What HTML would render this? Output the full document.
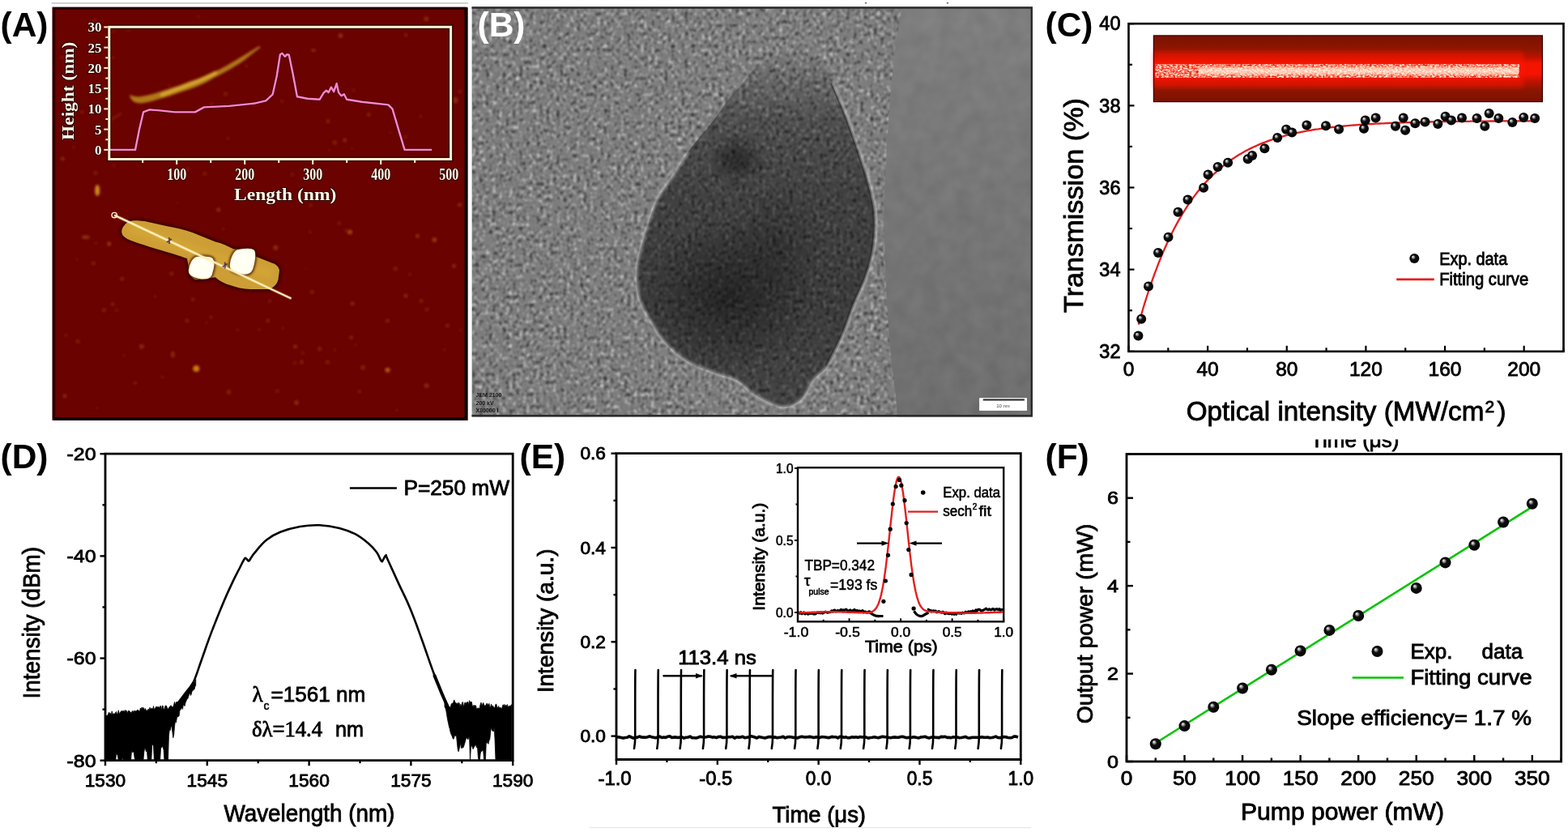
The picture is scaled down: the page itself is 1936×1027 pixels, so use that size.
<!DOCTYPE html>
<html><head><meta charset="utf-8"><title>Figure</title>
<style>html,body{margin:0;padding:0;background:#fff;} svg{display:block;}</style>
</head><body>
<svg width="1936" height="1027" viewBox="0 0 1936 1027">
<defs>
<radialGradient id="sph" cx="0.5" cy="0.5" r="0.5" fx="0.33" fy="0.3">
 <stop offset="0" stop-color="#ffffff"/>
 <stop offset="0.22" stop-color="#9a9a9a"/>
 <stop offset="0.45" stop-color="#111"/>
 <stop offset="1" stop-color="#000"/>
</radialGradient>
<filter id="blur1" x="-20%" y="-20%" width="140%" height="140%"><feGaussianBlur stdDeviation="0.6"/></filter>
<filter id="blur2" x="-50%" y="-50%" width="200%" height="200%"><feGaussianBlur stdDeviation="1.5"/></filter>
<filter id="blur3" x="-50%" y="-50%" width="200%" height="200%"><feGaussianBlur stdDeviation="3"/></filter>
<filter id="blur6" x="-50%" y="-50%" width="200%" height="200%"><feGaussianBlur stdDeviation="6"/></filter>
</defs>
<defs>
<linearGradient id="lasbg" x1="0" y1="0" x2="0" y2="1">
 <stop offset="0" stop-color="#7a1200"/>
 <stop offset="0.2" stop-color="#8c1600"/>
 <stop offset="0.32" stop-color="#b81200"/>
 <stop offset="0.42" stop-color="#f41400"/>
 <stop offset="0.58" stop-color="#f41400"/>
 <stop offset="0.70" stop-color="#bc1200"/>
 <stop offset="0.82" stop-color="#8c1600"/>
 <stop offset="1" stop-color="#7a1200"/>
</linearGradient>
<linearGradient id="lascore" x1="0" y1="0" x2="0" y2="1">
 <stop offset="0" stop-color="#ffd0b0" stop-opacity="0"/>
 <stop offset="0.25" stop-color="#ffe8d0" stop-opacity="0.85"/>
 <stop offset="0.5" stop-color="#fff6e0" stop-opacity="1"/>
 <stop offset="0.75" stop-color="#ffe8d0" stop-opacity="0.85"/>
 <stop offset="1" stop-color="#ffd0b0" stop-opacity="0"/>
</linearGradient>
<filter id="speck" x="0" y="0" width="100%" height="100%">
 <feTurbulence type="fractalNoise" baseFrequency="0.35 0.5" numOctaves="2" seed="3" result="n"/>
 <feColorMatrix in="n" type="matrix" values="0 0 0 0 1  0 0 0 0 1  0 0 0 0 1  0 0 0 -2.2 1.6" result="a"/>
 <feComposite in="SourceGraphic" in2="a" operator="in" result="s"/>
 <feGaussianBlur in="s" stdDeviation="0.6"/>
</filter>
</defs>
<rect x="1424.4" y="43.9" width="480.0" height="81.69999999999999" fill="url(#lasbg)"/>
<rect x="1425.4" y="63.9" width="455.5999999999999" height="44" fill="#ff1800" opacity="0.5" filter="url(#blur3)"/>
<g filter="url(#speck)"><rect x="1426.4" y="79" width="449.5999999999999" height="17" fill="#fff4e0"/></g>
<rect x="1480" y="81" width="395" height="13" fill="url(#lascore)" opacity="0.75"/>
<rect x="1424.4" y="43.9" width="480.0" height="81.69999999999999" fill="none" stroke="#3a0000" stroke-width="1.2"/>
<rect x="1393.5" y="29.2" width="537.0" height="404.6" fill="none" stroke="#000" stroke-width="2.6"/>
<line x1="1393.50" y1="433.80" x2="1400.50" y2="433.80" stroke="#000" stroke-width="2.2" />
<line x1="1393.50" y1="383.23" x2="1398.00" y2="383.23" stroke="#000" stroke-width="2.2" />
<line x1="1393.50" y1="332.65" x2="1400.50" y2="332.65" stroke="#000" stroke-width="2.2" />
<line x1="1393.50" y1="282.07" x2="1398.00" y2="282.07" stroke="#000" stroke-width="2.2" />
<line x1="1393.50" y1="231.50" x2="1400.50" y2="231.50" stroke="#000" stroke-width="2.2" />
<line x1="1393.50" y1="180.93" x2="1398.00" y2="180.93" stroke="#000" stroke-width="2.2" />
<line x1="1393.50" y1="130.35" x2="1400.50" y2="130.35" stroke="#000" stroke-width="2.2" />
<line x1="1393.50" y1="79.78" x2="1398.00" y2="79.78" stroke="#000" stroke-width="2.2" />
<line x1="1393.50" y1="29.20" x2="1400.50" y2="29.20" stroke="#000" stroke-width="2.2" />
<line x1="1393.50" y1="433.80" x2="1393.50" y2="426.80" stroke="#000" stroke-width="2.2" />
<line x1="1442.32" y1="433.80" x2="1442.32" y2="429.30" stroke="#000" stroke-width="2.2" />
<line x1="1491.14" y1="433.80" x2="1491.14" y2="426.80" stroke="#000" stroke-width="2.2" />
<line x1="1539.95" y1="433.80" x2="1539.95" y2="429.30" stroke="#000" stroke-width="2.2" />
<line x1="1588.77" y1="433.80" x2="1588.77" y2="426.80" stroke="#000" stroke-width="2.2" />
<line x1="1637.59" y1="433.80" x2="1637.59" y2="429.30" stroke="#000" stroke-width="2.2" />
<line x1="1686.41" y1="433.80" x2="1686.41" y2="426.80" stroke="#000" stroke-width="2.2" />
<line x1="1735.23" y1="433.80" x2="1735.23" y2="429.30" stroke="#000" stroke-width="2.2" />
<line x1="1784.05" y1="433.80" x2="1784.05" y2="426.80" stroke="#000" stroke-width="2.2" />
<line x1="1832.86" y1="433.80" x2="1832.86" y2="429.30" stroke="#000" stroke-width="2.2" />
<line x1="1881.68" y1="433.80" x2="1881.68" y2="426.80" stroke="#000" stroke-width="2.2" />
<line x1="1930.50" y1="433.80" x2="1930.50" y2="429.30" stroke="#000" stroke-width="2.2" />
<text x="1383.5" y="442.0" font-size="23.5" fill="#000" font-family="'Liberation Sans', Arial, sans-serif" text-anchor="end" stroke="#000" stroke-width="0.85" >32</text>
<text x="1383.5" y="340.9" font-size="23.5" fill="#000" font-family="'Liberation Sans', Arial, sans-serif" text-anchor="end" stroke="#000" stroke-width="0.85" >34</text>
<text x="1383.5" y="239.7" font-size="23.5" fill="#000" font-family="'Liberation Sans', Arial, sans-serif" text-anchor="end" stroke="#000" stroke-width="0.85" >36</text>
<text x="1383.5" y="138.5" font-size="23.5" fill="#000" font-family="'Liberation Sans', Arial, sans-serif" text-anchor="end" stroke="#000" stroke-width="0.85" >38</text>
<text x="1383.5" y="37.4" font-size="23.5" fill="#000" font-family="'Liberation Sans', Arial, sans-serif" text-anchor="end" stroke="#000" stroke-width="0.85" >40</text>
<text x="1393.5" y="464.0" font-size="24.5" fill="#000" font-family="'Liberation Sans', Arial, sans-serif" text-anchor="middle" stroke="#000" stroke-width="0.85" >0</text>
<text x="1491.1" y="464.0" font-size="24.5" fill="#000" font-family="'Liberation Sans', Arial, sans-serif" text-anchor="middle" stroke="#000" stroke-width="0.85" >40</text>
<text x="1588.8" y="464.0" font-size="24.5" fill="#000" font-family="'Liberation Sans', Arial, sans-serif" text-anchor="middle" stroke="#000" stroke-width="0.85" >80</text>
<text x="1686.4" y="464.0" font-size="24.5" fill="#000" font-family="'Liberation Sans', Arial, sans-serif" text-anchor="middle" stroke="#000" stroke-width="0.85" >120</text>
<text x="1784.0" y="464.0" font-size="24.5" fill="#000" font-family="'Liberation Sans', Arial, sans-serif" text-anchor="middle" stroke="#000" stroke-width="0.85" >160</text>
<text x="1881.7" y="464.0" font-size="24.5" fill="#000" font-family="'Liberation Sans', Arial, sans-serif" text-anchor="middle" stroke="#000" stroke-width="0.85" >200</text>
<text x="1464.7" y="519.0" font-size="33" fill="#000" font-family="'Liberation Sans', Arial, sans-serif" stroke="#000" stroke-width="0.85" textLength="367.7" lengthAdjust="spacingAndGlyphs" >Optical intensity (MW/cm</text>
<text x="1833.5" y="508.5" font-size="21" fill="#000" font-family="'Liberation Sans', Arial, sans-serif" stroke="#000" stroke-width="0.85" >2</text>
<text x="1848.5" y="519.0" font-size="33" fill="#000" font-family="'Liberation Sans', Arial, sans-serif" stroke="#000" stroke-width="0.85" >)</text>
<text x="1336.5" y="386.0" font-size="32.5" fill="#000" font-family="'Liberation Sans', Arial, sans-serif" stroke="#000" stroke-width="0.85" textLength="265.0" lengthAdjust="spacingAndGlyphs" transform="rotate(-90 1336.5 386.0)" >Transmission (%)</text>
<path d="M1405.7,400.6 L1408.1,391.9 L1410.6,383.5 L1413.0,375.3 L1415.5,367.5 L1417.9,360.0 L1420.3,352.7 L1422.8,345.6 L1425.2,338.8 L1427.7,332.3 L1430.1,325.9 L1432.6,319.8 L1435.0,313.9 L1437.4,308.2 L1439.9,302.7 L1442.3,297.4 L1444.8,292.2 L1447.2,287.3 L1449.6,282.5 L1452.1,277.9 L1454.5,273.4 L1457.0,269.1 L1459.4,265.0 L1461.8,261.0 L1464.3,257.1 L1466.7,253.3 L1469.2,249.7 L1471.6,246.3 L1474.0,242.9 L1476.5,239.6 L1478.9,236.5 L1481.4,233.5 L1483.8,230.6 L1486.3,227.7 L1488.7,225.0 L1491.1,222.4 L1493.6,219.9 L1496.0,217.4 L1498.5,215.0 L1500.9,212.8 L1503.3,210.6 L1505.8,208.4 L1508.2,206.4 L1510.7,204.4 L1513.1,202.5 L1515.5,200.6 L1518.0,198.8 L1520.4,197.1 L1522.9,195.5 L1525.3,193.9 L1527.8,192.3 L1530.2,190.8 L1532.6,189.4 L1535.1,188.0 L1537.5,186.6 L1540.0,185.3 L1542.4,184.1 L1544.8,182.9 L1547.3,181.7 L1549.7,180.6 L1552.2,179.5 L1554.6,178.4 L1557.0,177.4 L1559.5,176.4 L1561.9,175.5 L1564.4,174.6 L1566.8,173.7 L1569.2,172.8 L1571.7,172.0 L1574.1,171.2 L1576.6,170.4 L1579.0,169.7 L1581.5,169.0 L1583.9,168.3 L1586.3,167.6 L1588.8,167.0 L1591.2,166.4 L1593.7,165.8 L1596.1,165.2 L1598.5,164.6 L1601.0,164.1 L1603.4,163.6 L1605.9,163.1 L1608.3,162.6 L1610.7,162.1 L1613.2,161.7 L1615.6,161.2 L1618.1,160.8 L1620.5,160.4 L1622.9,160.0 L1625.4,159.6 L1627.8,159.3 L1630.3,158.9 L1632.7,158.6 L1635.2,158.2 L1637.6,157.9 L1640.0,157.6 L1642.5,157.3 L1644.9,157.0 L1647.4,156.8 L1649.8,156.5 L1652.2,156.2 L1654.7,156.0 L1657.1,155.8 L1659.6,155.5 L1662.0,155.3 L1664.4,155.1 L1666.9,154.9 L1669.3,154.7 L1671.8,154.5 L1674.2,154.3 L1676.6,154.1 L1679.1,153.9 L1681.5,153.8 L1684.0,153.6 L1686.4,153.4 L1688.8,153.3 L1691.3,153.1 L1693.7,153.0 L1696.2,152.9 L1698.6,152.7 L1701.1,152.6 L1703.5,152.5 L1705.9,152.4 L1708.4,152.3 L1710.8,152.1 L1713.3,152.0 L1715.7,151.9 L1718.1,151.8 L1720.6,151.7 L1723.0,151.6 L1725.5,151.6 L1727.9,151.5 L1730.3,151.4 L1732.8,151.3 L1735.2,151.2 L1737.7,151.2 L1740.1,151.1 L1742.5,151.0 L1745.0,150.9 L1747.4,150.9 L1749.9,150.8 L1752.3,150.8 L1754.8,150.7 L1757.2,150.6 L1759.6,150.6 L1762.1,150.5 L1764.5,150.5 L1767.0,150.4 L1769.4,150.4 L1771.8,150.3 L1774.3,150.3 L1776.7,150.3 L1779.2,150.2 L1781.6,150.2 L1784.0,150.1 L1786.5,150.1 L1788.9,150.1 L1791.4,150.0 L1793.8,150.0 L1796.2,150.0 L1798.7,149.9 L1801.1,149.9 L1803.6,149.9 L1806.0,149.8 L1808.5,149.8 L1810.9,149.8 L1813.3,149.8 L1815.8,149.7 L1818.2,149.7 L1820.7,149.7 L1823.1,149.7 L1825.5,149.7 L1828.0,149.6 L1830.4,149.6 L1832.9,149.6 L1835.3,149.6 L1837.7,149.6 L1840.2,149.5 L1842.6,149.5 L1845.1,149.5 L1847.5,149.5 L1850.0,149.5 L1852.4,149.5 L1854.8,149.4 L1857.3,149.4 L1859.7,149.4 L1862.2,149.4 L1864.6,149.4 L1867.0,149.4 L1869.5,149.4 L1871.9,149.4 L1874.4,149.4 L1876.8,149.3 L1879.2,149.3 L1881.7,149.3 L1884.1,149.3 L1886.6,149.3 L1889.0,149.3 L1891.4,149.3 L1893.9,149.3 L1896.3,149.3 L1898.8,149.3" fill="none" stroke="#e41e1e" stroke-width="2.3"/>
<circle cx="1405.4" cy="414.4" r="6" fill="url(#sph)"/>
<circle cx="1409.2" cy="393.7" r="6" fill="url(#sph)"/>
<circle cx="1418.0" cy="353.4" r="6" fill="url(#sph)"/>
<circle cx="1430.0" cy="311.9" r="6" fill="url(#sph)"/>
<circle cx="1442.5" cy="292.8" r="6" fill="url(#sph)"/>
<circle cx="1454.5" cy="261.8" r="6" fill="url(#sph)"/>
<circle cx="1466.5" cy="246.5" r="6" fill="url(#sph)"/>
<circle cx="1486.1" cy="231.8" r="6" fill="url(#sph)"/>
<circle cx="1491.6" cy="215.4" r="6" fill="url(#sph)"/>
<circle cx="1503.6" cy="206.1" r="6" fill="url(#sph)"/>
<circle cx="1516.1" cy="200.7" r="6" fill="url(#sph)"/>
<circle cx="1540.7" cy="196.3" r="6" fill="url(#sph)"/>
<circle cx="1546.1" cy="191.9" r="6" fill="url(#sph)"/>
<circle cx="1561.4" cy="183.2" r="6" fill="url(#sph)"/>
<circle cx="1577.2" cy="170.1" r="6" fill="url(#sph)"/>
<circle cx="1588.1" cy="159.8" r="6" fill="url(#sph)"/>
<circle cx="1595.2" cy="163.6" r="6" fill="url(#sph)"/>
<circle cx="1613.4" cy="154.6" r="6" fill="url(#sph)"/>
<circle cx="1637.0" cy="155.3" r="6" fill="url(#sph)"/>
<circle cx="1653.1" cy="159.5" r="6" fill="url(#sph)"/>
<circle cx="1684.0" cy="158.8" r="6" fill="url(#sph)"/>
<circle cx="1685.7" cy="148.5" r="6" fill="url(#sph)"/>
<circle cx="1698.6" cy="145.6" r="6" fill="url(#sph)"/>
<circle cx="1723.0" cy="155.8" r="6" fill="url(#sph)"/>
<circle cx="1732.7" cy="145.6" r="6" fill="url(#sph)"/>
<circle cx="1735.1" cy="160.7" r="6" fill="url(#sph)"/>
<circle cx="1747.3" cy="152.2" r="6" fill="url(#sph)"/>
<circle cx="1759.5" cy="150.5" r="6" fill="url(#sph)"/>
<circle cx="1775.3" cy="152.9" r="6" fill="url(#sph)"/>
<circle cx="1784.6" cy="143.7" r="6" fill="url(#sph)"/>
<circle cx="1791.9" cy="148.5" r="6" fill="url(#sph)"/>
<circle cx="1805.0" cy="145.6" r="6" fill="url(#sph)"/>
<circle cx="1823.5" cy="146.1" r="6" fill="url(#sph)"/>
<circle cx="1833.3" cy="155.8" r="6" fill="url(#sph)"/>
<circle cx="1838.6" cy="140.0" r="6" fill="url(#sph)"/>
<circle cx="1850.3" cy="146.1" r="6" fill="url(#sph)"/>
<circle cx="1867.3" cy="151.0" r="6" fill="url(#sph)"/>
<circle cx="1881.2" cy="144.9" r="6" fill="url(#sph)"/>
<circle cx="1895.1" cy="146.1" r="6" fill="url(#sph)"/>
<circle cx="1746.3" cy="319.1" r="6" fill="url(#sph)"/>
<text x="1777.2" y="326.5" font-size="22" fill="#000" font-family="'Liberation Sans', Arial, sans-serif" stroke="#000" stroke-width="0.85" textLength="84.0" lengthAdjust="spacingAndGlyphs" >Exp. data</text>
<line x1="1724.20" y1="344.90" x2="1770.80" y2="344.90" stroke="#e41e1e" stroke-width="2.6" />
<text x="1777.2" y="351.5" font-size="22" fill="#000" font-family="'Liberation Sans', Arial, sans-serif" stroke="#000" stroke-width="0.85" textLength="110.0" lengthAdjust="spacingAndGlyphs" >Fitting curve</text>
<text x="1290.5" y="44.5" font-size="42.5" fill="#000" font-family="'Liberation Sans', Arial, sans-serif" font-weight="bold" >(C)</text>
<path d="M216.0,872.0 C217.2,870.7 219.0,869.1 222.0,865.5 C225.0,861.9 227.6,858.7 231.0,854.0 C234.4,849.3 235.4,849.8 238.9,842.0 C242.4,834.2 244.3,827.2 248.7,815.0 C253.1,802.8 255.5,795.0 260.9,780.9 C266.3,766.8 270.2,757.1 275.5,744.4 C280.8,731.7 283.5,726.3 287.6,717.6 C291.7,708.9 293.2,706.5 296.0,701.0 C298.8,695.5 300.2,692.3 301.8,690.0 C303.4,687.7 303.1,689.1 304.2,689.6 C305.3,690.1 305.8,692.8 307.1,692.4 C308.4,692.0 309.0,689.8 310.5,687.8 C312.0,685.8 310.7,686.6 314.4,682.3 C318.1,678.0 322.7,671.6 329.0,666.5 C335.3,661.4 337.7,660.1 346.0,656.8 C354.3,653.5 360.7,651.7 370.4,650.0 C380.1,648.3 385.0,647.9 394.7,648.3 C404.4,648.7 410.3,649.7 419.1,651.9 C427.9,654.1 431.3,655.3 438.6,659.2 C445.9,663.1 450.3,666.9 455.6,671.4 C460.9,675.9 462.0,677.3 465.0,681.5 C468.0,685.7 469.2,690.6 470.8,692.5 C472.4,694.4 471.9,692.4 473.0,691.0 C474.1,689.6 475.2,685.6 476.3,685.5 C477.4,685.4 475.4,683.6 478.6,690.5 C481.8,697.4 486.5,707.9 492.1,720.1 C497.7,732.3 500.9,737.6 506.7,751.7 C512.5,765.8 515.5,774.6 521.3,790.7 C527.1,806.8 531.0,818.9 535.9,832.0 C540.8,845.1 542.3,848.1 545.7,856.4 C549.1,864.7 551.5,870.0 553.0,873.4" fill="none" stroke="#000" stroke-width="2.6" stroke-linejoin="round"/>
<path d="M219,870 L225,862 L231,854 L235,849 L239,843" fill="none" stroke="#000" stroke-width="4" stroke-linecap="round" stroke-linejoin="round"/>
<path d="M536.5,834 L541,845 L545.7,856.4 L549,864 L553,873" fill="none" stroke="#000" stroke-width="4" stroke-linecap="round" stroke-linejoin="round"/>
<path d="M131.0,882.8 L131.9,884.6 L132.8,882.8 L133.7,881.4 L134.6,879.1 L135.5,880.9 L136.4,880.2 L137.3,883.1 L138.2,877.8 L139.1,882.7 L140.0,880.6 L140.9,882.0 L141.8,880.5 L142.7,879.7 L143.6,878.4 L144.5,881.9 L145.4,881.0 L146.3,876.7 L147.2,881.8 L148.1,879.7 L149.0,878.5 L149.9,877.6 L150.8,877.5 L151.7,878.2 L152.6,877.0 L153.5,879.6 L154.4,876.3 L155.3,878.8 L156.2,876.8 L157.1,880.5 L158.0,878.3 L158.9,877.0 L159.8,877.7 L160.7,878.7 L161.6,879.7 L162.5,879.3 L163.4,877.4 L164.3,879.7 L165.2,877.2 L166.1,878.8 L167.0,877.0 L167.9,879.1 L168.8,877.1 L169.7,876.2 L170.6,876.7 L171.5,877.1 L172.4,879.3 L173.3,874.0 L174.2,876.0 L175.1,873.0 L176.0,876.1 L176.9,873.2 L177.8,874.4 L178.7,877.2 L179.6,874.6 L180.5,877.4 L181.4,876.8 L182.3,877.2 L183.2,875.1 L184.1,877.5 L185.0,873.3 L185.9,874.8 L186.8,875.0 L187.7,874.1 L188.6,876.1 L189.5,871.6 L190.4,876.5 L191.3,874.2 L192.2,873.6 L193.1,871.9 L194.0,873.6 L194.9,872.3 L195.8,872.7 L196.7,873.7 L197.6,871.6 L198.5,871.6 L199.4,876.9 L200.3,871.1 L201.2,871.3 L202.1,875.6 L203.0,875.5 L203.9,871.5 L204.8,870.9 L205.7,871.6 L206.6,874.4 L207.5,874.9 L208.4,874.0 L209.3,872.3 L210.2,871.9 L211.1,870.7 L212.0,872.2 L212.9,872.9 L213.8,872.6 L214.7,869.6 L215.6,866.4 L216.5,870.7 L217.4,867.0 L218.3,866.1 L219.2,867.8 L220.1,867.3 L221.0,867.7 L221.9,869.0 L222.8,864.1 L223.7,866.1 L224.6,865.6 L225.5,863.3 L226.4,861.4 L227.3,861.9 L228.2,856.7 L229.1,859.9 L230.0,856.7 L230.9,857.7 L231.8,855.1 L232.7,851.2 L233.6,849.6 L234.5,848.0 L235.4,850.7 L236.3,849.1 L237.2,844.3 L238.1,847.5 L239.0,846.8 L239.9,841.6 L240.8,844.7 L241.7,838.7 L241.7,845.9 L240.8,847.7 L239.9,851.1 L239.0,851.1 L238.1,852.7 L237.2,852.7 L236.3,856.8 L235.4,858.5 L234.5,855.4 L233.6,856.7 L232.7,860.1 L231.8,862.5 L230.9,862.6 L230.0,865.3 L229.1,866.9 L228.2,871.4 L227.3,871.0 L226.4,869.1 L225.5,875.4 L224.6,872.8 L223.7,875.5 L222.8,875.6 L221.9,877.6 L221.0,884.0 L220.1,884.6 L219.2,884.5 L218.3,886.5 L217.4,891.9 L216.5,889.7 L215.6,895.9 L214.7,906.5 L213.8,910.7 L212.9,903.5 L212.0,896.0 L211.1,897.3 L210.2,901.6 L209.3,900.7 L208.4,908.3 L207.5,938.7 L206.6,938.7 L205.7,938.7 L204.8,938.7 L203.9,938.7 L203.0,938.7 L202.1,925.8 L201.2,922.4 L200.3,921.5 L199.4,923.1 L198.5,923.8 L197.6,938.7 L196.7,938.7 L195.8,938.7 L194.9,938.7 L194.0,938.7 L193.1,938.7 L192.2,938.7 L191.3,938.7 L190.4,938.7 L189.5,920.9 L188.6,919.2 L187.7,919.2 L186.8,938.7 L185.9,938.7 L185.0,938.7 L184.1,938.7 L183.2,938.7 L182.3,938.7 L181.4,924.1 L180.5,927.9 L179.6,924.4 L178.7,923.6 L177.8,928.3 L176.9,938.7 L176.0,938.7 L175.1,938.7 L174.2,938.7 L173.3,938.7 L172.4,938.7 L171.5,938.7 L170.6,938.7 L169.7,938.7 L168.8,938.7 L167.9,938.7 L167.0,938.7 L166.1,935.3 L165.2,928.1 L164.3,928.3 L163.4,928.8 L162.5,925.5 L161.6,938.7 L160.7,938.7 L159.8,938.7 L158.9,938.7 L158.0,938.7 L157.1,938.7 L156.2,938.7 L155.3,938.7 L154.4,938.7 L153.5,938.7 L152.6,938.7 L151.7,936.5 L150.8,936.1 L149.9,938.7 L149.0,938.7 L148.1,938.7 L147.2,938.7 L146.3,938.7 L145.4,933.0 L144.5,931.0 L143.6,930.1 L142.7,938.7 L141.8,938.7 L140.9,938.7 L140.0,938.7 L139.1,938.7 L138.2,938.7 L137.3,938.7 L136.4,938.7 L135.5,938.7 L134.6,938.7 L133.7,938.7 L132.8,938.7 L131.9,938.7 L131.0,938.7Z" fill="#000" stroke="#000" stroke-width="0.8" stroke-linejoin="round"/>
<path d="M549.0,863.8 L549.9,866.9 L550.8,869.3 L551.7,869.6 L552.6,868.7 L553.5,871.2 L554.4,871.8 L555.3,872.9 L556.2,873.2 L557.1,869.5 L558.0,868.1 L558.9,868.4 L559.8,866.8 L560.7,863.9 L561.6,866.1 L562.5,867.6 L563.4,868.7 L564.3,867.6 L565.2,870.0 L566.1,867.3 L567.0,867.7 L567.9,872.8 L568.8,869.2 L569.7,872.2 L570.6,867.1 L571.5,866.6 L572.4,872.9 L573.3,869.3 L574.2,866.8 L575.1,869.4 L576.0,867.1 L576.9,866.8 L577.8,866.5 L578.7,870.4 L579.6,864.6 L580.5,867.4 L581.4,866.1 L582.3,866.5 L583.2,871.1 L584.1,872.6 L585.0,870.3 L585.9,871.7 L586.8,870.4 L587.7,871.3 L588.6,876.3 L589.5,874.3 L590.4,873.8 L591.3,875.2 L592.2,873.6 L593.1,869.6 L594.0,867.1 L594.9,871.2 L595.8,869.2 L596.7,867.4 L597.6,869.8 L598.5,871.6 L599.4,870.7 L600.3,869.6 L601.2,868.0 L602.1,869.2 L603.0,871.1 L603.9,868.3 L604.8,872.9 L605.7,872.4 L606.6,869.0 L607.5,872.5 L608.4,870.9 L609.3,872.5 L610.2,873.7 L611.1,872.7 L612.0,869.3 L612.9,869.2 L613.8,874.0 L614.7,873.3 L615.6,871.6 L616.5,874.6 L617.4,872.9 L618.3,873.8 L619.2,874.9 L620.1,873.0 L621.0,869.8 L621.9,870.9 L622.8,869.4 L623.7,872.4 L624.6,870.1 L625.5,871.9 L626.4,869.5 L627.3,872.9 L628.2,871.9 L629.1,871.1 L630.0,872.6 L630.9,870.5 L631.8,869.6 L631.8,938.7 L630.9,938.7 L630.0,938.7 L629.1,938.7 L628.2,938.7 L627.3,938.7 L626.4,938.7 L625.5,938.7 L624.6,938.7 L623.7,938.7 L622.8,938.7 L621.9,938.7 L621.0,938.7 L620.1,938.7 L619.2,938.7 L618.3,938.7 L617.4,938.7 L616.5,938.7 L615.6,938.7 L614.7,938.7 L613.8,938.7 L612.9,938.7 L612.0,938.7 L611.1,914.3 L610.2,897.1 L609.3,902.9 L608.4,902.5 L607.5,901.1 L606.6,897.5 L605.7,903.7 L604.8,912.4 L603.9,914.2 L603.0,918.4 L602.1,914.6 L601.2,917.4 L600.3,916.3 L599.4,938.7 L598.5,938.7 L597.6,938.7 L596.7,926.0 L595.8,926.1 L594.9,927.6 L594.0,927.0 L593.1,930.4 L592.2,938.7 L591.3,938.7 L590.4,935.2 L589.5,921.5 L588.6,923.1 L587.7,919.9 L586.8,919.0 L585.9,921.8 L585.0,922.3 L584.1,924.7 L583.2,922.4 L582.3,919.7 L581.4,922.3 L580.5,938.7 L579.6,911.0 L578.7,910.1 L577.8,913.0 L576.9,911.2 L576.0,910.5 L575.1,912.9 L574.2,916.1 L573.3,919.0 L572.4,921.9 L571.5,923.2 L570.6,922.8 L569.7,923.8 L568.8,916.5 L567.9,921.5 L567.0,924.6 L566.1,927.8 L565.2,925.0 L564.3,916.1 L563.4,907.1 L562.5,908.6 L561.6,906.9 L560.7,910.8 L559.8,912.4 L558.9,911.1 L558.0,908.3 L557.1,906.5 L556.2,904.2 L555.3,899.6 L554.4,896.7 L553.5,892.4 L552.6,888.3 L551.7,882.8 L550.8,877.2 L549.9,874.0 L549.0,872.4Z" fill="#000" stroke="#000" stroke-width="0.8" stroke-linejoin="round"/>
<path d="M130.0,560.2 L633.2,560.2 L633.2,938.7 L130.0,938.7Z" fill="none" stroke="#000" stroke-width="2.8"/>
<line x1="130.00" y1="938.70" x2="123.50" y2="938.70" stroke="#000" stroke-width="2.4" />
<line x1="130.00" y1="875.62" x2="126.50" y2="875.62" stroke="#000" stroke-width="2.4" />
<line x1="130.00" y1="812.53" x2="123.50" y2="812.53" stroke="#000" stroke-width="2.4" />
<line x1="130.00" y1="749.45" x2="126.50" y2="749.45" stroke="#000" stroke-width="2.4" />
<line x1="130.00" y1="686.37" x2="123.50" y2="686.37" stroke="#000" stroke-width="2.4" />
<line x1="130.00" y1="623.28" x2="126.50" y2="623.28" stroke="#000" stroke-width="2.4" />
<line x1="130.00" y1="560.20" x2="123.50" y2="560.20" stroke="#000" stroke-width="2.4" />
<line x1="130.00" y1="938.70" x2="130.00" y2="945.20" stroke="#000" stroke-width="2.4" />
<line x1="192.90" y1="938.70" x2="192.90" y2="942.20" stroke="#000" stroke-width="2.4" />
<line x1="255.80" y1="938.70" x2="255.80" y2="945.20" stroke="#000" stroke-width="2.4" />
<line x1="318.70" y1="938.70" x2="318.70" y2="942.20" stroke="#000" stroke-width="2.4" />
<line x1="381.60" y1="938.70" x2="381.60" y2="945.20" stroke="#000" stroke-width="2.4" />
<line x1="444.50" y1="938.70" x2="444.50" y2="942.20" stroke="#000" stroke-width="2.4" />
<line x1="507.40" y1="938.70" x2="507.40" y2="945.20" stroke="#000" stroke-width="2.4" />
<line x1="570.30" y1="938.70" x2="570.30" y2="942.20" stroke="#000" stroke-width="2.4" />
<line x1="633.20" y1="938.70" x2="633.20" y2="945.20" stroke="#000" stroke-width="2.4" />
<text x="118.5" y="946.5" font-size="22.5" fill="#000" font-family="'Liberation Sans', Arial, sans-serif" text-anchor="end" stroke="#000" stroke-width="0.85" textLength="36.0" lengthAdjust="spacingAndGlyphs" >-80</text>
<text x="118.5" y="820.3" font-size="22.5" fill="#000" font-family="'Liberation Sans', Arial, sans-serif" text-anchor="end" stroke="#000" stroke-width="0.85" textLength="36.0" lengthAdjust="spacingAndGlyphs" >-60</text>
<text x="118.5" y="694.2" font-size="22.5" fill="#000" font-family="'Liberation Sans', Arial, sans-serif" text-anchor="end" stroke="#000" stroke-width="0.85" textLength="36.0" lengthAdjust="spacingAndGlyphs" >-40</text>
<text x="118.5" y="568.0" font-size="22.5" fill="#000" font-family="'Liberation Sans', Arial, sans-serif" text-anchor="end" stroke="#000" stroke-width="0.85" textLength="36.0" lengthAdjust="spacingAndGlyphs" >-20</text>
<text x="130.0" y="971.2" font-size="22.5" fill="#000" font-family="'Liberation Sans', Arial, sans-serif" text-anchor="middle" stroke="#000" stroke-width="0.85" textLength="50.5" lengthAdjust="spacingAndGlyphs" >1530</text>
<text x="255.8" y="971.2" font-size="22.5" fill="#000" font-family="'Liberation Sans', Arial, sans-serif" text-anchor="middle" stroke="#000" stroke-width="0.85" textLength="50.5" lengthAdjust="spacingAndGlyphs" >1545</text>
<text x="381.6" y="971.2" font-size="22.5" fill="#000" font-family="'Liberation Sans', Arial, sans-serif" text-anchor="middle" stroke="#000" stroke-width="0.85" textLength="50.5" lengthAdjust="spacingAndGlyphs" >1560</text>
<text x="507.4" y="971.2" font-size="22.5" fill="#000" font-family="'Liberation Sans', Arial, sans-serif" text-anchor="middle" stroke="#000" stroke-width="0.85" textLength="50.5" lengthAdjust="spacingAndGlyphs" >1575</text>
<text x="633.2" y="971.2" font-size="22.5" fill="#000" font-family="'Liberation Sans', Arial, sans-serif" text-anchor="middle" stroke="#000" stroke-width="0.85" textLength="50.5" lengthAdjust="spacingAndGlyphs" >1590</text>
<text x="276.4" y="1014.2" font-size="29.5" fill="#000" font-family="'Liberation Sans', Arial, sans-serif" stroke="#000" stroke-width="0.85" textLength="211.0" lengthAdjust="spacingAndGlyphs" >Wavelength (nm)</text>
<text x="49.5" y="862.4" font-size="29.5" fill="#000" font-family="'Liberation Sans', Arial, sans-serif" stroke="#000" stroke-width="0.85" textLength="187.4" lengthAdjust="spacingAndGlyphs" transform="rotate(-90 49.5 862.4)" >Intensity (dBm)</text>
<line x1="431.90" y1="602.40" x2="489.90" y2="602.40" stroke="#000" stroke-width="2.5" />
<text x="498.4" y="610.7" font-size="26" fill="#000" font-family="'Liberation Sans', Arial, sans-serif" stroke="#000" stroke-width="0.85" textLength="130.6" lengthAdjust="spacingAndGlyphs" >P=250 mW</text>
<text x="311.5" y="865.8" font-size="27" fill="#000" font-family="'Liberation Serif', 'Times New Roman', serif" stroke="#000" stroke-width="0.85" >&#955;</text>
<text x="325.5" y="876.0" font-size="14" fill="#000" font-family="'Liberation Sans', Arial, sans-serif" stroke="#000" stroke-width="0.55" >c</text>
<text x="334.6" y="865.8" font-size="26.5" fill="#000" font-family="'Liberation Sans', Arial, sans-serif" stroke="#000" stroke-width="0.85" textLength="116.7" lengthAdjust="spacingAndGlyphs" >=1561 nm</text>
<text x="311.0" y="909.0" font-size="27" fill="#000" font-family="'Liberation Serif', 'Times New Roman', serif" stroke="#000" stroke-width="0.85" textLength="87.0" lengthAdjust="spacingAndGlyphs" >&#948;&#955;=14.4</text>
<text x="414.0" y="909.0" font-size="26.5" fill="#000" font-family="'Liberation Sans', Arial, sans-serif" stroke="#000" stroke-width="0.85" textLength="35.0" lengthAdjust="spacingAndGlyphs" >nm</text>
<text x="0.5" y="577.5" font-size="42.5" fill="#000" font-family="'Liberation Sans', Arial, sans-serif" font-weight="bold" >(D)</text>
<path d="M762.0,909.8 L764.5,909.9 L767.0,910.5 L769.5,911.1 L772.0,910.5 L774.5,910.2 L777.0,908.9 L779.5,910.0 L782.0,911.1 L784.5,910.4 L787.0,910.2 L789.5,909.0 L792.0,910.0 L794.5,910.1 L797.0,910.3 L799.5,909.8 L802.0,908.9 L804.5,909.7 L807.0,910.2 L809.5,910.8 L812.0,910.0 L814.5,909.1 L817.0,910.5 L819.5,910.0 L822.0,910.4 L824.5,909.2 L827.0,908.8 L829.5,910.5 L832.0,910.1 L834.5,909.9 L837.0,910.4 L839.5,910.1 L842.0,909.7 L844.5,911.1 L847.0,910.3 L849.5,910.0 L852.0,909.1 L854.5,910.6 L857.0,910.7 L859.5,911.0 L862.0,910.3 L864.5,909.2 L867.0,909.8 L869.5,910.0 L872.0,909.8 L874.5,909.1 L877.0,909.2 L879.5,910.1 L882.0,909.8 L884.5,910.6 L887.0,909.5 L889.5,909.2 L892.0,910.4 L894.5,910.4 L897.0,910.1 L899.5,909.7 L902.0,909.8 L904.5,909.3 L907.0,911.1 L909.5,909.7 L912.0,910.1 L914.5,910.0 L917.0,909.2 L919.5,910.8 L922.0,910.2 L924.5,909.9 L927.0,908.8 L929.5,909.3 L932.0,910.0 L934.5,911.0 L937.0,909.4 L939.5,909.9 L942.0,910.5 L944.5,911.0 L947.0,910.2 L949.5,909.6 L952.0,909.5 L954.5,910.3 L957.0,909.9 L959.5,910.7 L962.0,910.3 L964.5,910.0 L967.0,909.2 L969.5,911.0 L972.0,909.8 L974.5,909.6 L977.0,909.7 L979.5,910.4 L982.0,910.2 L984.5,911.0 L987.0,909.9 L989.5,909.2 L992.0,909.6 L994.5,909.9 L997.0,909.8 L999.5,909.4 L1002.0,909.8 L1004.5,910.5 L1007.0,909.9 L1009.5,909.8 L1012.0,910.6 L1014.5,909.6 L1017.0,909.7 L1019.5,910.0 L1022.0,910.6 L1024.5,910.4 L1027.0,909.4 L1029.5,909.7 L1032.0,909.7 L1034.5,911.0 L1037.0,909.3 L1039.5,909.5 L1042.0,910.2 L1044.5,909.8 L1047.0,910.8 L1049.5,910.6 L1052.0,909.7 L1054.5,910.1 L1057.0,909.8 L1059.5,910.4 L1062.0,909.5 L1064.5,910.0 L1067.0,909.4 L1069.5,910.2 L1072.0,911.2 L1074.5,910.5 L1077.0,910.2 L1079.5,909.7 L1082.0,910.3 L1084.5,910.8 L1087.0,910.0 L1089.5,909.2 L1092.0,909.6 L1094.5,909.8 L1097.0,910.3 L1099.5,910.7 L1102.0,910.2 L1104.5,909.9 L1107.0,910.3 L1109.5,910.3 L1112.0,909.5 L1114.5,909.2 L1117.0,910.1 L1119.5,910.8 L1122.0,910.3 L1124.5,910.4 L1127.0,909.9 L1129.5,909.9 L1132.0,910.5 L1134.5,910.9 L1137.0,909.9 L1139.5,909.8 L1142.0,909.3 L1144.5,910.2 L1147.0,910.9 L1149.5,910.3 L1152.0,909.3 L1154.5,910.3 L1157.0,910.4 L1159.5,910.6 L1162.0,909.4 L1164.5,909.6 L1167.0,909.3 L1169.5,910.4 L1172.0,910.4 L1174.5,910.6 L1177.0,909.8 L1179.5,910.0 L1182.0,910.0 L1184.5,910.7 L1187.0,910.5 L1189.5,910.0 L1192.0,909.4 L1194.5,910.7 L1197.0,911.0 L1199.5,910.4 L1202.0,910.3 L1204.5,910.2 L1207.0,910.2 L1209.5,910.5 L1212.0,909.7 L1214.5,910.1 L1217.0,910.2 L1219.5,910.1 L1222.0,910.8 L1224.5,910.5 L1227.0,909.9 L1229.5,909.1 L1232.0,910.5 L1234.5,910.6 L1237.0,910.4 L1239.5,909.5 L1242.0,909.7 L1244.5,910.5 L1247.0,910.7 L1249.5,910.5 L1252.0,909.0 L1254.5,909.1 L1257.0,910.0" fill="none" stroke="#000" stroke-width="3.6" stroke-linejoin="round"/>
<path d="M784.5,827 C784.2,830 784.2,850 784.2,880 L784.2,910 C784.2,915 783.7,920 783.0,924" fill="none" stroke="#000" stroke-width="2.6" stroke-linecap="round"/>
<path d="M812.8,827 C812.5,830 812.5,850 812.5,880 L812.5,910 C812.5,915 812.0,920 811.3,924" fill="none" stroke="#000" stroke-width="2.6" stroke-linecap="round"/>
<path d="M841.1,827 C840.8,830 840.8,850 840.8,880 L840.8,910 C840.8,915 840.3,920 839.6,924" fill="none" stroke="#000" stroke-width="2.6" stroke-linecap="round"/>
<path d="M869.4,827 C869.1,830 869.1,850 869.1,880 L869.1,910 C869.1,915 868.6,920 867.9,924" fill="none" stroke="#000" stroke-width="2.6" stroke-linecap="round"/>
<path d="M897.7,827 C897.4,830 897.4,850 897.4,880 L897.4,910 C897.4,915 896.9,920 896.2,924" fill="none" stroke="#000" stroke-width="2.6" stroke-linecap="round"/>
<path d="M926.0,827 C925.7,830 925.7,850 925.7,880 L925.7,910 C925.7,915 925.2,920 924.5,924" fill="none" stroke="#000" stroke-width="2.6" stroke-linecap="round"/>
<path d="M954.3,827 C954.0,830 954.0,850 954.0,880 L954.0,910 C954.0,915 953.5,920 952.8,924" fill="none" stroke="#000" stroke-width="2.6" stroke-linecap="round"/>
<path d="M982.6,827 C982.3,830 982.3,850 982.3,880 L982.3,910 C982.3,915 981.8,920 981.1,924" fill="none" stroke="#000" stroke-width="2.6" stroke-linecap="round"/>
<path d="M1010.9,827 C1010.6,830 1010.6,850 1010.6,880 L1010.6,910 C1010.6,915 1010.1,920 1009.4,924" fill="none" stroke="#000" stroke-width="2.6" stroke-linecap="round"/>
<path d="M1039.3,827 C1039.0,830 1039.0,850 1039.0,880 L1039.0,910 C1039.0,915 1038.5,920 1037.8,924" fill="none" stroke="#000" stroke-width="2.6" stroke-linecap="round"/>
<path d="M1067.6,827 C1067.3,830 1067.3,850 1067.3,880 L1067.3,910 C1067.3,915 1066.8,920 1066.1,924" fill="none" stroke="#000" stroke-width="2.6" stroke-linecap="round"/>
<path d="M1095.9,827 C1095.6,830 1095.6,850 1095.6,880 L1095.6,910 C1095.6,915 1095.1,920 1094.4,924" fill="none" stroke="#000" stroke-width="2.6" stroke-linecap="round"/>
<path d="M1124.2,827 C1123.9,830 1123.9,850 1123.9,880 L1123.9,910 C1123.9,915 1123.4,920 1122.7,924" fill="none" stroke="#000" stroke-width="2.6" stroke-linecap="round"/>
<path d="M1152.5,827 C1152.2,830 1152.2,850 1152.2,880 L1152.2,910 C1152.2,915 1151.7,920 1151.0,924" fill="none" stroke="#000" stroke-width="2.6" stroke-linecap="round"/>
<path d="M1180.8,827 C1180.5,830 1180.5,850 1180.5,880 L1180.5,910 C1180.5,915 1180.0,920 1179.3,924" fill="none" stroke="#000" stroke-width="2.6" stroke-linecap="round"/>
<path d="M1209.1,827 C1208.8,830 1208.8,850 1208.8,880 L1208.8,910 C1208.8,915 1208.3,920 1207.6,924" fill="none" stroke="#000" stroke-width="2.6" stroke-linecap="round"/>
<path d="M1237.4,827 C1237.1,830 1237.1,850 1237.1,880 L1237.1,910 C1237.1,915 1236.6,920 1235.9,924" fill="none" stroke="#000" stroke-width="2.6" stroke-linecap="round"/>
<line x1="818.50" y1="834.20" x2="866.50" y2="834.20" stroke="#000" stroke-width="2.4" />
<path d="M868.0,834.2 L859.0,831.0 L859.0,837.4Z" fill="#000"/>
<line x1="902.00" y1="834.20" x2="954.00" y2="834.20" stroke="#000" stroke-width="2.4" />
<path d="M900.5,834.2 L909.5,831.0 L909.5,837.4Z" fill="#000"/>
<text x="837.2" y="819.7" font-size="24" fill="#000" font-family="'Liberation Sans', Arial, sans-serif" stroke="#000" stroke-width="0.85" textLength="96.6" lengthAdjust="spacingAndGlyphs" >113.4 ns</text>
<path d="M761.0,559.7 L1260.3,559.7 L1260.3,937.5 L761.0,937.5Z" fill="none" stroke="#000" stroke-width="2.8"/>
<line x1="761.00" y1="908.60" x2="754.50" y2="908.60" stroke="#000" stroke-width="2.4" />
<line x1="761.00" y1="850.45" x2="757.50" y2="850.45" stroke="#000" stroke-width="2.4" />
<line x1="761.00" y1="792.30" x2="754.50" y2="792.30" stroke="#000" stroke-width="2.4" />
<line x1="761.00" y1="734.15" x2="757.50" y2="734.15" stroke="#000" stroke-width="2.4" />
<line x1="761.00" y1="676.00" x2="754.50" y2="676.00" stroke="#000" stroke-width="2.4" />
<line x1="761.00" y1="617.85" x2="757.50" y2="617.85" stroke="#000" stroke-width="2.4" />
<line x1="761.00" y1="559.70" x2="754.50" y2="559.70" stroke="#000" stroke-width="2.4" />
<line x1="761.00" y1="937.50" x2="761.00" y2="944.00" stroke="#000" stroke-width="2.4" />
<line x1="823.41" y1="937.50" x2="823.41" y2="941.00" stroke="#000" stroke-width="2.4" />
<line x1="885.83" y1="937.50" x2="885.83" y2="944.00" stroke="#000" stroke-width="2.4" />
<line x1="948.24" y1="937.50" x2="948.24" y2="941.00" stroke="#000" stroke-width="2.4" />
<line x1="1010.65" y1="937.50" x2="1010.65" y2="944.00" stroke="#000" stroke-width="2.4" />
<line x1="1073.06" y1="937.50" x2="1073.06" y2="941.00" stroke="#000" stroke-width="2.4" />
<line x1="1135.47" y1="937.50" x2="1135.47" y2="944.00" stroke="#000" stroke-width="2.4" />
<line x1="1197.89" y1="937.50" x2="1197.89" y2="941.00" stroke="#000" stroke-width="2.4" />
<line x1="1260.30" y1="937.50" x2="1260.30" y2="944.00" stroke="#000" stroke-width="2.4" />
<text x="748.0" y="916.1" font-size="22" fill="#000" font-family="'Liberation Sans', Arial, sans-serif" text-anchor="end" stroke="#000" stroke-width="0.85" textLength="31.6" lengthAdjust="spacingAndGlyphs" >0.0</text>
<text x="748.0" y="799.8" font-size="22" fill="#000" font-family="'Liberation Sans', Arial, sans-serif" text-anchor="end" stroke="#000" stroke-width="0.85" textLength="31.6" lengthAdjust="spacingAndGlyphs" >0.2</text>
<text x="748.0" y="683.5" font-size="22" fill="#000" font-family="'Liberation Sans', Arial, sans-serif" text-anchor="end" stroke="#000" stroke-width="0.85" textLength="31.6" lengthAdjust="spacingAndGlyphs" >0.4</text>
<text x="748.0" y="567.2" font-size="22" fill="#000" font-family="'Liberation Sans', Arial, sans-serif" text-anchor="end" stroke="#000" stroke-width="0.85" textLength="31.6" lengthAdjust="spacingAndGlyphs" >0.6</text>
<text x="759.0" y="968.7" font-size="23" fill="#000" font-family="'Liberation Sans', Arial, sans-serif" text-anchor="middle" stroke="#000" stroke-width="0.85" textLength="41.0" lengthAdjust="spacingAndGlyphs" >-1.0</text>
<text x="883.8" y="968.7" font-size="23" fill="#000" font-family="'Liberation Sans', Arial, sans-serif" text-anchor="middle" stroke="#000" stroke-width="0.85" textLength="41.0" lengthAdjust="spacingAndGlyphs" >-0.5</text>
<text x="1010.6" y="968.7" font-size="23" fill="#000" font-family="'Liberation Sans', Arial, sans-serif" text-anchor="middle" stroke="#000" stroke-width="0.85" textLength="31.5" lengthAdjust="spacingAndGlyphs" >0.0</text>
<text x="1135.5" y="968.7" font-size="23" fill="#000" font-family="'Liberation Sans', Arial, sans-serif" text-anchor="middle" stroke="#000" stroke-width="0.85" textLength="31.5" lengthAdjust="spacingAndGlyphs" >0.5</text>
<text x="1260.3" y="968.7" font-size="23" fill="#000" font-family="'Liberation Sans', Arial, sans-serif" text-anchor="middle" stroke="#000" stroke-width="0.85" textLength="31.5" lengthAdjust="spacingAndGlyphs" >1.0</text>
<text x="953.6" y="1014.5" font-size="27" fill="#000" font-family="'Liberation Sans', Arial, sans-serif" stroke="#000" stroke-width="0.85" textLength="115.4" lengthAdjust="spacingAndGlyphs" >Time (&#956;s)</text>
<text x="683.2" y="855.3" font-size="27" fill="#000" font-family="'Liberation Sans', Arial, sans-serif" stroke="#000" stroke-width="0.85" textLength="177.8" lengthAdjust="spacingAndGlyphs" transform="rotate(-90 683.2 855.3)" >Intensity (a.u.)</text>
<text x="641.5" y="577.5" font-size="42.5" fill="#000" font-family="'Liberation Sans', Arial, sans-serif" font-weight="bold" >(E)</text>
<path d="M985.0,756.1 L986.3,756.4 L987.5,757.1 L988.8,755.7 L990.1,757.7 L991.4,756.7 L992.6,756.0 L993.9,757.9 L995.2,756.9 L996.4,756.9 L997.7,758.2 L999.0,757.5 L1000.3,756.8 L1001.5,757.3 L1002.8,756.8 L1004.1,757.9 L1005.3,757.7 L1006.6,757.9 L1007.9,757.0 L1009.1,756.0 L1010.4,756.6 L1011.7,756.1 L1013.0,756.8 L1014.2,755.9 L1015.5,757.1 L1016.8,756.5 L1018.0,755.5 L1019.3,755.2 L1020.6,755.7 L1021.9,756.2 L1023.1,755.6 L1024.4,755.6 L1025.7,755.2 L1026.9,753.9 L1028.2,755.0 L1029.5,753.4 L1030.8,753.2 L1032.0,754.8 L1033.3,754.0 L1034.6,753.6 L1035.8,754.5 L1037.1,753.5 L1038.4,752.4 L1039.7,754.0 L1040.9,752.9 L1042.2,753.8 L1043.5,752.8 L1044.7,752.1 L1046.0,753.6 L1047.3,754.0 L1048.6,753.9 L1049.8,753.0 L1051.1,754.2 L1052.4,754.1 L1053.6,753.3 L1054.9,752.5 L1056.2,753.7 L1057.4,753.9 L1058.7,753.5 L1060.0,754.9 L1061.3,754.0 L1062.5,755.0 L1063.8,754.3 L1065.1,753.7 L1066.3,755.9 L1067.6,755.0 L1068.9,755.1 L1070.2,756.2 L1071.4,756.2 L1072.7,754.8 L1074.0,755.0 L1075.2,757.0" fill="none" stroke="#000" stroke-width="3.2" stroke-linejoin="round"/>
<path d="M1145.1,752.7 L1146.4,752.3 L1147.7,754.0 L1149.0,753.4 L1150.2,754.8 L1151.5,754.3 L1152.8,753.9 L1154.0,754.3 L1155.3,754.1 L1156.6,755.8 L1157.9,755.5 L1159.1,754.6 L1160.4,755.4 L1161.7,755.9 L1162.9,756.2 L1164.2,755.2 L1165.5,756.2 L1166.8,757.6 L1168.0,756.1 L1169.3,757.2 L1170.6,757.1 L1171.8,757.7 L1173.1,757.3 L1174.4,757.6 L1175.7,758.2 L1176.9,757.0 L1178.2,758.2 L1179.5,756.7 L1180.7,758.3 L1182.0,756.6 L1183.3,756.5 L1184.5,757.1 L1185.8,756.5 L1187.1,757.4 L1188.4,756.2 L1189.6,756.7 L1190.9,756.9 L1192.2,755.2 L1193.4,756.2 L1194.7,756.0 L1196.0,754.8 L1197.3,755.6 L1198.5,754.7 L1199.8,755.5 L1201.1,753.9 L1202.3,754.9 L1203.6,755.1 L1204.9,752.9 L1206.2,754.4 L1207.4,752.5 L1208.7,752.2 L1210.0,752.8 L1211.2,753.9 L1212.5,753.6 L1213.8,753.2 L1215.1,752.6 L1216.3,752.0 L1217.6,751.2 L1218.9,752.4 L1220.1,752.8 L1221.4,751.9 L1222.7,752.7 L1223.9,752.8 L1225.2,751.9 L1226.5,751.6 L1227.8,753.0 L1229.0,752.3 L1230.3,751.8 L1231.6,751.8 L1232.8,752.8 L1234.1,751.8 L1235.4,753.5 L1236.7,752.5 L1237.9,752.6" fill="none" stroke="#000" stroke-width="3.2" stroke-linejoin="round"/>
<path d="M1074.0,756.0 Q1080.3,761.3 1086.7,760.5 L1090.5,760.5" fill="none" stroke="#000" stroke-width="3.2"/>
<path d="M1128.6,754.2 Q1132.4,761.3 1138.8,760.5 L1146.4,756.0" fill="none" stroke="#000" stroke-width="3.2"/>
<path d="M985.0,756.5 L985.6,756.4 L986.3,756.4 L986.9,756.4 L987.5,756.4 L988.2,756.4 L988.8,756.3 L989.4,756.3 L990.1,756.3 L990.7,756.3 L991.4,756.3 L992.0,756.2 L992.6,756.2 L993.3,756.2 L993.9,756.2 L994.5,756.1 L995.2,756.1 L995.8,756.1 L996.4,756.1 L997.1,756.0 L997.7,756.0 L998.3,756.0 L999.0,756.0 L999.6,755.9 L1000.3,755.9 L1000.9,755.9 L1001.5,755.9 L1002.2,755.8 L1002.8,755.8 L1003.4,755.8 L1004.1,755.8 L1004.7,755.7 L1005.3,755.7 L1006.0,755.7 L1006.6,755.7 L1007.2,755.7 L1007.9,755.6 L1008.5,755.6 L1009.1,755.6 L1009.8,755.6 L1010.4,755.6 L1011.1,755.5 L1011.7,755.5 L1012.3,755.5 L1013.0,755.5 L1013.6,755.5 L1014.2,755.4 L1014.9,755.4 L1015.5,755.4 L1016.1,755.4 L1016.8,755.4 L1017.4,755.4 L1018.0,755.4 L1018.7,755.4 L1019.3,755.3 L1020.0,755.3 L1020.6,755.3 L1021.2,755.3 L1021.9,755.3 L1022.5,755.3 L1023.1,755.3 L1023.8,755.3 L1024.4,755.3 L1025.0,755.3 L1025.7,755.3 L1026.3,755.3 L1026.9,755.3 L1027.6,755.3 L1028.2,755.3 L1028.8,755.3 L1029.5,755.3 L1030.1,755.3 L1030.8,755.3 L1031.4,755.3 L1032.0,755.3 L1032.7,755.3 L1033.3,755.3 L1033.9,755.3 L1034.6,755.4 L1035.2,755.4 L1035.8,755.4 L1036.5,755.4 L1037.1,755.4 L1037.7,755.4 L1038.4,755.4 L1039.0,755.4 L1039.7,755.5 L1040.3,755.5 L1040.9,755.5 L1041.6,755.5 L1042.2,755.5 L1042.8,755.6 L1043.5,755.6 L1044.1,755.6 L1044.7,755.6 L1045.4,755.6 L1046.0,755.7 L1046.6,755.7 L1047.3,755.7 L1047.9,755.7 L1048.6,755.8 L1049.2,755.8 L1049.8,755.8 L1050.5,755.8 L1051.1,755.8 L1051.7,755.9 L1052.4,755.9 L1053.0,755.9 L1053.6,755.9 L1054.3,756.0 L1054.9,756.0 L1055.5,756.0 L1056.2,756.0 L1056.8,756.1 L1057.4,756.1 L1058.1,756.1 L1058.7,756.1 L1059.4,756.2 L1060.0,756.2 L1060.6,756.2 L1061.3,756.2 L1061.9,756.3 L1062.5,756.3 L1063.2,756.3 L1063.8,756.3 L1064.4,756.3 L1065.1,756.3 L1065.7,756.4 L1066.3,756.4 L1067.0,756.4 L1067.6,756.4 L1068.3,756.4 L1068.9,756.4 L1069.5,756.3 L1070.2,756.3 L1070.8,756.3 L1071.4,756.2 L1072.1,756.2 L1072.7,756.1 L1073.3,756.0 L1074.0,755.9 L1074.6,755.7 L1075.2,755.6 L1075.9,755.4 L1076.5,755.1 L1077.1,754.8 L1077.8,754.5 L1078.4,754.1 L1079.1,753.6 L1079.7,753.1 L1080.3,752.4 L1081.0,751.7 L1081.6,750.9 L1082.2,749.9 L1082.9,748.8 L1083.5,747.6 L1084.1,746.3 L1084.8,744.7 L1085.4,743.0 L1086.0,741.1 L1086.7,739.0 L1087.3,736.7 L1088.0,734.1 L1088.6,731.3 L1089.2,728.3 L1089.9,725.0 L1090.5,721.5 L1091.1,717.7 L1091.8,713.6 L1092.4,709.3 L1093.0,704.8 L1093.7,700.0 L1094.3,694.9 L1094.9,689.7 L1095.6,684.2 L1096.2,678.6 L1096.8,672.9 L1097.5,667.0 L1098.1,661.1 L1098.8,655.1 L1099.4,649.1 L1100.0,643.1 L1100.7,637.3 L1101.3,631.6 L1101.9,626.0 L1102.6,620.7 L1103.2,615.6 L1103.8,610.9 L1104.5,606.5 L1105.1,602.6 L1105.7,599.0 L1106.4,596.0 L1107.0,593.5 L1107.7,591.4 L1108.3,590.0 L1108.9,589.1 L1109.6,588.8 L1110.2,589.0 L1110.8,589.9 L1111.5,591.3 L1112.1,593.3 L1112.7,595.7 L1113.4,598.7 L1114.0,602.2 L1114.6,606.1 L1115.3,610.5 L1115.9,615.2 L1116.5,620.2 L1117.2,625.4 L1117.8,630.9 L1118.5,636.6 L1119.1,642.4 L1119.7,648.3 L1120.4,654.3 L1121.0,660.2 L1121.6,666.1 L1122.3,672.0 L1122.9,677.7 L1123.5,683.3 L1124.2,688.7 L1124.8,693.9 L1125.4,698.9 L1126.1,703.6 L1126.7,708.2 L1127.4,712.5 L1128.0,716.5 L1128.6,720.3 L1129.3,723.8 L1129.9,727.0 L1130.5,730.0 L1131.2,732.8 L1131.8,735.3 L1132.4,737.6 L1133.1,739.7 L1133.7,741.6 L1134.3,743.3 L1135.0,744.9 L1135.6,746.2 L1136.2,747.4 L1136.9,748.5 L1137.5,749.5 L1138.2,750.3 L1138.8,751.0 L1139.4,751.6 L1140.1,752.2 L1140.7,752.7 L1141.3,753.1 L1142.0,753.4 L1142.6,753.7 L1143.2,754.0 L1143.9,754.2 L1144.5,754.4 L1145.1,754.6 L1145.8,754.7 L1146.4,754.8 L1147.1,754.9 L1147.7,755.0 L1148.3,755.1 L1149.0,755.1 L1149.6,755.2 L1150.2,755.2 L1150.9,755.3 L1151.5,755.3 L1152.1,755.4 L1152.8,755.4 L1153.4,755.4 L1154.0,755.4 L1154.7,755.5 L1155.3,755.5 L1155.9,755.5 L1156.6,755.5 L1157.2,755.6 L1157.9,755.6 L1158.5,755.6 L1159.1,755.6 L1159.8,755.6 L1160.4,755.7 L1161.0,755.7 L1161.7,755.7 L1162.3,755.7 L1162.9,755.8 L1163.6,755.8 L1164.2,755.8 L1164.8,755.8 L1165.5,755.9 L1166.1,755.9 L1166.8,755.9 L1167.4,755.9 L1168.0,756.0 L1168.7,756.0 L1169.3,756.0 L1169.9,756.0 L1170.6,756.1 L1171.2,756.1 L1171.8,756.1 L1172.5,756.1 L1173.1,756.2 L1173.7,756.2 L1174.4,756.2 L1175.0,756.2 L1175.7,756.2 L1176.3,756.3 L1176.9,756.3 L1177.6,756.3 L1178.2,756.3 L1178.8,756.4 L1179.5,756.4 L1180.1,756.4 L1180.7,756.4 L1181.4,756.4 L1182.0,756.5 L1182.6,756.5 L1183.3,756.5 L1183.9,756.5 L1184.5,756.5 L1185.2,756.6 L1185.8,756.6 L1186.5,756.6 L1187.1,756.6 L1187.7,756.6 L1188.4,756.6 L1189.0,756.6 L1189.6,756.6 L1190.3,756.7 L1190.9,756.7 L1191.5,756.7 L1192.2,756.7 L1192.8,756.7 L1193.4,756.7 L1194.1,756.7 L1194.7,756.7 L1195.4,756.7 L1196.0,756.7 L1196.6,756.7 L1197.3,756.7 L1197.9,756.7 L1198.5,756.7 L1199.2,756.7 L1199.8,756.7 L1200.4,756.7 L1201.1,756.7 L1201.7,756.7 L1202.3,756.7 L1203.0,756.7 L1203.6,756.7 L1204.2,756.7 L1204.9,756.7 L1205.5,756.6 L1206.2,756.6 L1206.8,756.6 L1207.4,756.6 L1208.1,756.6 L1208.7,756.6 L1209.3,756.6 L1210.0,756.6 L1210.6,756.5 L1211.2,756.5 L1211.9,756.5 L1212.5,756.5 L1213.1,756.5 L1213.8,756.4 L1214.4,756.4 L1215.1,756.4 L1215.7,756.4 L1216.3,756.4 L1217.0,756.3 L1217.6,756.3 L1218.2,756.3 L1218.9,756.3 L1219.5,756.3 L1220.1,756.2 L1220.8,756.2 L1221.4,756.2 L1222.0,756.2 L1222.7,756.1 L1223.3,756.1 L1223.9,756.1 L1224.6,756.1 L1225.2,756.0 L1225.9,756.0 L1226.5,756.0 L1227.1,756.0 L1227.8,755.9 L1228.4,755.9 L1229.0,755.9 L1229.7,755.9 L1230.3,755.8 L1230.9,755.8 L1231.6,755.8 L1232.2,755.8 L1232.8,755.7 L1233.5,755.7 L1234.1,755.7 L1234.8,755.7 L1235.4,755.7 L1236.0,755.6 L1236.7,755.6 L1237.3,755.6 L1237.9,755.6 L1238.6,755.6 L1239.2,755.5" fill="none" stroke="#e41e1e" stroke-width="2.4"/>
<circle cx="1090.9" cy="742.3" r="2.6" fill="#000"/>
<circle cx="1093.4" cy="717" r="2.6" fill="#000"/>
<circle cx="1096.5" cy="685.3" r="2.6" fill="#000"/>
<circle cx="1099.2" cy="653.2" r="2.6" fill="#000"/>
<circle cx="1102.3" cy="622" r="2.6" fill="#000"/>
<circle cx="1106.1" cy="600.5" r="2.6" fill="#000"/>
<circle cx="1110.4" cy="592.4" r="2.6" fill="#000"/>
<circle cx="1112.9" cy="599.2" r="2.6" fill="#000"/>
<circle cx="1117" cy="617.7" r="2.6" fill="#000"/>
<circle cx="1119.2" cy="645.6" r="2.6" fill="#000"/>
<circle cx="1121.8" cy="678.5" r="2.6" fill="#000"/>
<circle cx="1125.1" cy="709.4" r="2.6" fill="#000"/>
<circle cx="1128.1" cy="751.1" r="2.6" fill="#000"/>
<line x1="1058.00" y1="670.60" x2="1092.00" y2="670.60" stroke="#000" stroke-width="2.2" />
<path d="M1097.5,670.6 L1088.5,667.4 L1088.5,673.8Z" fill="#000"/>
<line x1="1128.00" y1="670.60" x2="1163.00" y2="670.60" stroke="#000" stroke-width="2.2" />
<path d="M1122.5,670.6 L1131.5,667.4 L1131.5,673.8Z" fill="#000"/>
<rect x="985.0" y="577.2" width="254.20000000000005" height="190.0999999999999" fill="none" stroke="#000" stroke-width="2.4"/>
<line x1="985.00" y1="756.00" x2="981.00" y2="756.00" stroke="#000" stroke-width="2.0" />
<line x1="985.00" y1="711.50" x2="982.50" y2="711.50" stroke="#000" stroke-width="2.0" />
<line x1="985.00" y1="667.00" x2="981.00" y2="667.00" stroke="#000" stroke-width="2.0" />
<line x1="985.00" y1="622.50" x2="982.50" y2="622.50" stroke="#000" stroke-width="2.0" />
<line x1="985.00" y1="578.00" x2="981.00" y2="578.00" stroke="#000" stroke-width="2.0" />
<line x1="985.00" y1="767.30" x2="985.00" y2="763.30" stroke="#000" stroke-width="2.0" />
<line x1="1016.77" y1="767.30" x2="1016.77" y2="764.80" stroke="#000" stroke-width="2.0" />
<line x1="1048.55" y1="767.30" x2="1048.55" y2="763.30" stroke="#000" stroke-width="2.0" />
<line x1="1080.33" y1="767.30" x2="1080.33" y2="764.80" stroke="#000" stroke-width="2.0" />
<line x1="1112.10" y1="767.30" x2="1112.10" y2="763.30" stroke="#000" stroke-width="2.0" />
<line x1="1143.88" y1="767.30" x2="1143.88" y2="764.80" stroke="#000" stroke-width="2.0" />
<line x1="1175.65" y1="767.30" x2="1175.65" y2="763.30" stroke="#000" stroke-width="2.0" />
<line x1="1207.42" y1="767.30" x2="1207.42" y2="764.80" stroke="#000" stroke-width="2.0" />
<line x1="1239.20" y1="767.30" x2="1239.20" y2="763.30" stroke="#000" stroke-width="2.0" />
<text x="979.5" y="761.8" font-size="16.5" fill="#000" font-family="'Liberation Sans', Arial, sans-serif" text-anchor="end" stroke="#000" stroke-width="0.55" textLength="21.5" lengthAdjust="spacingAndGlyphs" >0.0</text>
<text x="979.5" y="672.8" font-size="16.5" fill="#000" font-family="'Liberation Sans', Arial, sans-serif" text-anchor="end" stroke="#000" stroke-width="0.55" textLength="21.5" lengthAdjust="spacingAndGlyphs" >0.5</text>
<text x="979.5" y="583.8" font-size="16.5" fill="#000" font-family="'Liberation Sans', Arial, sans-serif" text-anchor="end" stroke="#000" stroke-width="0.55" textLength="21.5" lengthAdjust="spacingAndGlyphs" >1.0</text>
<text x="983.0" y="785.5" font-size="17" fill="#000" font-family="'Liberation Sans', Arial, sans-serif" text-anchor="middle" stroke="#000" stroke-width="0.55" textLength="30.7" lengthAdjust="spacingAndGlyphs" >-1.0</text>
<text x="1046.5" y="785.5" font-size="17" fill="#000" font-family="'Liberation Sans', Arial, sans-serif" text-anchor="middle" stroke="#000" stroke-width="0.55" textLength="30.7" lengthAdjust="spacingAndGlyphs" >-0.5</text>
<text x="1112.1" y="785.5" font-size="17" fill="#000" font-family="'Liberation Sans', Arial, sans-serif" text-anchor="middle" stroke="#000" stroke-width="0.55" textLength="24.0" lengthAdjust="spacingAndGlyphs" >0.0</text>
<text x="1175.7" y="785.5" font-size="17" fill="#000" font-family="'Liberation Sans', Arial, sans-serif" text-anchor="middle" stroke="#000" stroke-width="0.55" textLength="24.0" lengthAdjust="spacingAndGlyphs" >0.5</text>
<text x="1239.2" y="785.5" font-size="17" fill="#000" font-family="'Liberation Sans', Arial, sans-serif" text-anchor="middle" stroke="#000" stroke-width="0.55" textLength="24.0" lengthAdjust="spacingAndGlyphs" >1.0</text>
<text x="1067.9" y="805.0" font-size="20.5" fill="#000" font-family="'Liberation Sans', Arial, sans-serif" stroke="#000" stroke-width="0.85" textLength="89.8" lengthAdjust="spacingAndGlyphs" >Time (ps)</text>
<text x="944.5" y="753.7" font-size="20" fill="#000" font-family="'Liberation Sans', Arial, sans-serif" stroke="#000" stroke-width="0.85" textLength="133.0" lengthAdjust="spacingAndGlyphs" transform="rotate(-90 944.5 753.7)" >Intensity (a.u.)</text>
<circle cx="1139.7" cy="608" r="2.8" fill="#000"/>
<text x="1164.3" y="614.4" font-size="17.5" fill="#000" font-family="'Liberation Sans', Arial, sans-serif" stroke="#000" stroke-width="0.55" textLength="70.7" lengthAdjust="spacingAndGlyphs" >Exp. data</text>
<line x1="1121.00" y1="631.60" x2="1158.00" y2="631.60" stroke="#e41e1e" stroke-width="2.2" />
<text x="1164.3" y="637.0" font-size="17.5" fill="#000" font-family="'Liberation Sans', Arial, sans-serif" stroke="#000" stroke-width="0.55" textLength="36.0" lengthAdjust="spacingAndGlyphs" >sech</text>
<text x="1200.8" y="628.5" font-size="10" fill="#000" font-family="'Liberation Sans', Arial, sans-serif" stroke="#000" stroke-width="0.55" >2</text>
<text x="1208.5" y="637.0" font-size="17.5" fill="#000" font-family="'Liberation Sans', Arial, sans-serif" stroke="#000" stroke-width="0.55" textLength="15.5" lengthAdjust="spacingAndGlyphs" >fit</text>
<text x="993.4" y="703.8" font-size="19" fill="#000" font-family="'Liberation Sans', Arial, sans-serif" stroke="#000" stroke-width="0.55" textLength="86.6" lengthAdjust="spacingAndGlyphs" >TBP=0.342</text>
<text x="993.0" y="722.5" font-size="19" fill="#000" font-family="'Liberation Sans', Arial, sans-serif" stroke="#000" stroke-width="0.55" >&#964;</text>
<text x="998.5" y="733.5" font-size="10" fill="#000" font-family="'Liberation Sans', Arial, sans-serif" stroke="#000" stroke-width="0.55" textLength="25.0" lengthAdjust="spacingAndGlyphs" >pulse</text>
<text x="1025.0" y="728.4" font-size="19" fill="#000" font-family="'Liberation Sans', Arial, sans-serif" stroke="#000" stroke-width="0.55" textLength="58.3" lengthAdjust="spacingAndGlyphs" >=193 fs</text>
<line x1="1426.77" y1="917.23" x2="1891.83" y2="625.56" stroke="#00c400" stroke-width="2.6" />
<circle cx="1426.8" cy="918.3" r="7.0" fill="url(#sph)"/>
<circle cx="1462.5" cy="896.1" r="7.0" fill="url(#sph)"/>
<circle cx="1498.3" cy="872.8" r="7.0" fill="url(#sph)"/>
<circle cx="1534.1" cy="849.5" r="7.0" fill="url(#sph)"/>
<circle cx="1569.9" cy="826.7" r="7.0" fill="url(#sph)"/>
<circle cx="1605.6" cy="803.4" r="7.0" fill="url(#sph)"/>
<circle cx="1641.4" cy="777.9" r="7.0" fill="url(#sph)"/>
<circle cx="1677.2" cy="760.0" r="7.0" fill="url(#sph)"/>
<circle cx="1748.7" cy="725.9" r="7.0" fill="url(#sph)"/>
<circle cx="1784.5" cy="694.4" r="7.0" fill="url(#sph)"/>
<circle cx="1820.3" cy="672.7" r="7.0" fill="url(#sph)"/>
<circle cx="1856.1" cy="644.5" r="7.0" fill="url(#sph)"/>
<circle cx="1891.8" cy="621.8" r="7.0" fill="url(#sph)"/>
<rect x="1391.0" y="560.5" width="536.5999999999999" height="379.5" fill="none" stroke="#000" stroke-width="2.8"/>
<line x1="1391.00" y1="940.00" x2="1399.00" y2="940.00" stroke="#000" stroke-width="2.4" />
<line x1="1391.00" y1="885.79" x2="1395.50" y2="885.79" stroke="#000" stroke-width="2.4" />
<line x1="1391.00" y1="831.57" x2="1399.00" y2="831.57" stroke="#000" stroke-width="2.4" />
<line x1="1391.00" y1="777.36" x2="1395.50" y2="777.36" stroke="#000" stroke-width="2.4" />
<line x1="1391.00" y1="723.14" x2="1399.00" y2="723.14" stroke="#000" stroke-width="2.4" />
<line x1="1391.00" y1="668.93" x2="1395.50" y2="668.93" stroke="#000" stroke-width="2.4" />
<line x1="1391.00" y1="614.71" x2="1399.00" y2="614.71" stroke="#000" stroke-width="2.4" />
<line x1="1391.00" y1="560.50" x2="1395.50" y2="560.50" stroke="#000" stroke-width="2.4" />
<line x1="1391.00" y1="940.00" x2="1391.00" y2="932.00" stroke="#000" stroke-width="2.4" />
<line x1="1426.77" y1="940.00" x2="1426.77" y2="935.50" stroke="#000" stroke-width="2.4" />
<line x1="1462.55" y1="940.00" x2="1462.55" y2="932.00" stroke="#000" stroke-width="2.4" />
<line x1="1498.32" y1="940.00" x2="1498.32" y2="935.50" stroke="#000" stroke-width="2.4" />
<line x1="1534.09" y1="940.00" x2="1534.09" y2="932.00" stroke="#000" stroke-width="2.4" />
<line x1="1569.87" y1="940.00" x2="1569.87" y2="935.50" stroke="#000" stroke-width="2.4" />
<line x1="1605.64" y1="940.00" x2="1605.64" y2="932.00" stroke="#000" stroke-width="2.4" />
<line x1="1641.41" y1="940.00" x2="1641.41" y2="935.50" stroke="#000" stroke-width="2.4" />
<line x1="1677.19" y1="940.00" x2="1677.19" y2="932.00" stroke="#000" stroke-width="2.4" />
<line x1="1712.96" y1="940.00" x2="1712.96" y2="935.50" stroke="#000" stroke-width="2.4" />
<line x1="1748.73" y1="940.00" x2="1748.73" y2="932.00" stroke="#000" stroke-width="2.4" />
<line x1="1784.51" y1="940.00" x2="1784.51" y2="935.50" stroke="#000" stroke-width="2.4" />
<line x1="1820.28" y1="940.00" x2="1820.28" y2="932.00" stroke="#000" stroke-width="2.4" />
<line x1="1856.05" y1="940.00" x2="1856.05" y2="935.50" stroke="#000" stroke-width="2.4" />
<line x1="1891.83" y1="940.00" x2="1891.83" y2="932.00" stroke="#000" stroke-width="2.4" />
<line x1="1927.60" y1="940.00" x2="1927.60" y2="935.50" stroke="#000" stroke-width="2.4" />
<text x="1381.0" y="947.5" font-size="22.5" fill="#000" font-family="'Liberation Sans', Arial, sans-serif" text-anchor="end" stroke="#000" stroke-width="0.85" textLength="14.0" lengthAdjust="spacingAndGlyphs" >0</text>
<text x="1381.0" y="839.1" font-size="22.5" fill="#000" font-family="'Liberation Sans', Arial, sans-serif" text-anchor="end" stroke="#000" stroke-width="0.85" textLength="14.0" lengthAdjust="spacingAndGlyphs" >2</text>
<text x="1381.0" y="730.6" font-size="22.5" fill="#000" font-family="'Liberation Sans', Arial, sans-serif" text-anchor="end" stroke="#000" stroke-width="0.85" textLength="14.0" lengthAdjust="spacingAndGlyphs" >4</text>
<text x="1381.0" y="622.2" font-size="22.5" fill="#000" font-family="'Liberation Sans', Arial, sans-serif" text-anchor="end" stroke="#000" stroke-width="0.85" textLength="14.0" lengthAdjust="spacingAndGlyphs" >6</text>
<text x="1391.0" y="968.8" font-size="24.5" fill="#000" font-family="'Liberation Sans', Arial, sans-serif" text-anchor="middle" stroke="#000" stroke-width="0.85" textLength="14.6" lengthAdjust="spacingAndGlyphs" >0</text>
<text x="1462.5" y="968.8" font-size="24.5" fill="#000" font-family="'Liberation Sans', Arial, sans-serif" text-anchor="middle" stroke="#000" stroke-width="0.85" textLength="29.2" lengthAdjust="spacingAndGlyphs" >50</text>
<text x="1534.1" y="968.8" font-size="24.5" fill="#000" font-family="'Liberation Sans', Arial, sans-serif" text-anchor="middle" stroke="#000" stroke-width="0.85" textLength="43.8" lengthAdjust="spacingAndGlyphs" >100</text>
<text x="1605.6" y="968.8" font-size="24.5" fill="#000" font-family="'Liberation Sans', Arial, sans-serif" text-anchor="middle" stroke="#000" stroke-width="0.85" textLength="43.8" lengthAdjust="spacingAndGlyphs" >150</text>
<text x="1677.2" y="968.8" font-size="24.5" fill="#000" font-family="'Liberation Sans', Arial, sans-serif" text-anchor="middle" stroke="#000" stroke-width="0.85" textLength="43.8" lengthAdjust="spacingAndGlyphs" >200</text>
<text x="1748.7" y="968.8" font-size="24.5" fill="#000" font-family="'Liberation Sans', Arial, sans-serif" text-anchor="middle" stroke="#000" stroke-width="0.85" textLength="43.8" lengthAdjust="spacingAndGlyphs" >250</text>
<text x="1820.3" y="968.8" font-size="24.5" fill="#000" font-family="'Liberation Sans', Arial, sans-serif" text-anchor="middle" stroke="#000" stroke-width="0.85" textLength="43.8" lengthAdjust="spacingAndGlyphs" >300</text>
<text x="1891.8" y="968.8" font-size="24.5" fill="#000" font-family="'Liberation Sans', Arial, sans-serif" text-anchor="middle" stroke="#000" stroke-width="0.85" textLength="43.8" lengthAdjust="spacingAndGlyphs" >350</text>
<text x="1349.0" y="893.2" font-size="28.5" fill="#000" font-family="'Liberation Sans', Arial, sans-serif" stroke="#000" stroke-width="0.85" textLength="246.5" lengthAdjust="spacingAndGlyphs" transform="rotate(-90 1349.0 893.2)" >Output power (mW)</text>
<text x="1532.0" y="1012.0" font-size="29" fill="#000" font-family="'Liberation Sans', Arial, sans-serif" stroke="#000" stroke-width="0.85" textLength="251.0" lengthAdjust="spacingAndGlyphs" >Pump power (mW)</text>
<circle cx="1700.5" cy="804.0" r="7.0" fill="url(#sph)"/>
<text x="1741.4" y="812.5" font-size="26" fill="#000" font-family="'Liberation Sans', Arial, sans-serif" stroke="#000" stroke-width="0.85" >Exp.</text>
<text x="1880.2" y="812.5" font-size="26" fill="#000" font-family="'Liberation Sans', Arial, sans-serif" text-anchor="end" stroke="#000" stroke-width="0.85" >data</text>
<line x1="1669.70" y1="836.50" x2="1733.00" y2="836.50" stroke="#00c400" stroke-width="2.6" />
<text x="1741.4" y="844.5" font-size="26" fill="#000" font-family="'Liberation Sans', Arial, sans-serif" stroke="#000" stroke-width="0.85" textLength="150.1" lengthAdjust="spacingAndGlyphs" >Fitting curve</text>
<text x="1601.2" y="895.4" font-size="26" fill="#000" font-family="'Liberation Sans', Arial, sans-serif" stroke="#000" stroke-width="0.85" textLength="289.8" lengthAdjust="spacingAndGlyphs" >Slope efficiency= 1.7 %</text>
<text x="1290.5" y="577.5" font-size="42.5" fill="#000" font-family="'Liberation Sans', Arial, sans-serif" font-weight="bold" >(F)</text>
<line x1="63.50" y1="3.90" x2="578.00" y2="3.90" stroke="#c8ccc8" stroke-width="1.8" />
<rect x="64.5" y="8.8" width="513.0" height="510.2" fill="#6a0200"/>
<g filter="url(#blur2)">
<ellipse cx="120.2" cy="235" rx="3" ry="7" fill="#d89a20" opacity="0.9"/>
<ellipse cx="242.3" cy="455.1" rx="4" ry="4" fill="#d08a10" opacity="0.9"/>
<ellipse cx="478.5" cy="456.7" rx="3" ry="3" fill="#c07010" opacity="0.8"/>
<ellipse cx="432" cy="286.4" rx="3" ry="3" fill="#b06010" opacity="0.7"/>
<ellipse cx="536.4" cy="296" rx="3" ry="3" fill="#a85a10" opacity="0.6"/>
<ellipse cx="515.5" cy="291.2" rx="2.5" ry="2.5" fill="#a85a10" opacity="0.5"/>
<ellipse cx="340.4" cy="305.7" rx="3" ry="3" fill="#a85a10" opacity="0.5"/>
<ellipse cx="269.7" cy="259" rx="2.5" ry="2.5" fill="#a85a10" opacity="0.5"/>
<ellipse cx="105.8" cy="292.8" rx="5" ry="2.5" fill="#a85a10" opacity="0.5"/>
<ellipse cx="134.7" cy="300.9" rx="2.5" ry="2.5" fill="#b06010" opacity="0.6"/>
<ellipse cx="150.8" cy="344.2" rx="2.5" ry="2.5" fill="#a05010" opacity="0.4"/>
<ellipse cx="211.8" cy="337.8" rx="2.5" ry="2.5" fill="#a05010" opacity="0.4"/>
<ellipse cx="174.9" cy="427.8" rx="3" ry="3" fill="#a05010" opacity="0.5"/>
<ellipse cx="213.4" cy="437.4" rx="2.5" ry="4" fill="#a05010" opacity="0.5"/>
<ellipse cx="364.5" cy="427.8" rx="2.5" ry="2.5" fill="#a05010" opacity="0.5"/>
<ellipse cx="372.5" cy="447" rx="2.5" ry="2.5" fill="#a05010" opacity="0.4"/>
<ellipse cx="435.1" cy="374.8" rx="2.5" ry="2.5" fill="#a05010" opacity="0.5"/>
<ellipse cx="478.5" cy="395.7" rx="2.5" ry="2.5" fill="#a05010" opacity="0.4"/>
<ellipse cx="501" cy="365" rx="2.5" ry="2.5" fill="#a05010" opacity="0.5"/>
<ellipse cx="520.3" cy="371.6" rx="2.5" ry="2.5" fill="#a05010" opacity="0.4"/>
<ellipse cx="560.5" cy="328.2" rx="2.5" ry="2.5" fill="#a05010" opacity="0.5"/>
<ellipse cx="552.4" cy="402" rx="2.5" ry="2.5" fill="#a05010" opacity="0.4"/>
<ellipse cx="526.7" cy="476" rx="3" ry="3" fill="#a05010" opacity="0.5"/>
<ellipse cx="366" cy="496.9" rx="3" ry="3" fill="#a05010" opacity="0.5"/>
<ellipse cx="282.5" cy="484" rx="3" ry="3" fill="#a05010" opacity="0.4"/>
<ellipse cx="448" cy="453.5" rx="3" ry="3" fill="#a05010" opacity="0.4"/>
<ellipse cx="404.6" cy="447" rx="2.5" ry="2.5" fill="#a05010" opacity="0.4"/>
<ellipse cx="330.7" cy="395.7" rx="2.5" ry="2.5" fill="#a05010" opacity="0.4"/>
<ellipse cx="231" cy="395.7" rx="2.5" ry="2.5" fill="#a05010" opacity="0.4"/>
<ellipse cx="128.3" cy="382.8" rx="2.5" ry="2.5" fill="#a05010" opacity="0.4"/>
<ellipse cx="80" cy="488.8" rx="2.5" ry="2.5" fill="#a05010" opacity="0.5"/>
<ellipse cx="115.4" cy="325" rx="2.5" ry="2.5" fill="#a05010" opacity="0.4"/>
<ellipse cx="385.3" cy="360.3" rx="2.5" ry="2.5" fill="#a05010" opacity="0.4"/>
<ellipse cx="433.5" cy="416.5" rx="2.5" ry="2.5" fill="#a05010" opacity="0.4"/>
<ellipse cx="488.2" cy="331.4" rx="2.5" ry="2.5" fill="#a05010" opacity="0.4"/>
<ellipse cx="96" cy="421.4" rx="2.5" ry="2.5" fill="#a05010" opacity="0.4"/>
<ellipse cx="387" cy="62" rx="3" ry="2" fill="#a05010" opacity="0.5"/>
<ellipse cx="420.5" cy="43.9" rx="3" ry="3" fill="#a85a10" opacity="0.5"/>
<ellipse cx="526.3" cy="23.2" rx="3" ry="3" fill="#a05010" opacity="0.5"/>
<ellipse cx="562.4" cy="123.8" rx="3" ry="4" fill="#a05010" opacity="0.5"/>
<ellipse cx="425.7" cy="172.9" rx="2.5" ry="2.5" fill="#a05010" opacity="0.5"/>
<ellipse cx="278.6" cy="116" rx="2.5" ry="2.5" fill="#a05010" opacity="0.4"/>
<ellipse cx="405" cy="149.6" rx="2.5" ry="2.5" fill="#a05010" opacity="0.4"/>
<ellipse cx="77.4" cy="196" rx="2.5" ry="2.5" fill="#a05010" opacity="0.5"/>
<ellipse cx="567.6" cy="252.8" rx="2.5" ry="2.5" fill="#a05010" opacity="0.5"/>
<circle cx="76.2" cy="70.9" r="2.0" fill="#9a4008" opacity="0.42"/>
<circle cx="139.6" cy="70.9" r="1.8" fill="#9a4008" opacity="0.44"/>
<circle cx="144.0" cy="383.1" r="2.4" fill="#9a4008" opacity="0.28"/>
<circle cx="338.9" cy="237.5" r="2.0" fill="#9a4008" opacity="0.50"/>
<circle cx="116.7" cy="25.1" r="2.7" fill="#9a4008" opacity="0.35"/>
<circle cx="169.6" cy="179.2" r="2.0" fill="#9a4008" opacity="0.49"/>
<circle cx="175.6" cy="122.8" r="2.3" fill="#9a4008" opacity="0.39"/>
<circle cx="548.8" cy="431.8" r="2.0" fill="#9a4008" opacity="0.30"/>
<circle cx="489.9" cy="506.5" r="1.5" fill="#9a4008" opacity="0.43"/>
<circle cx="505.9" cy="338.6" r="1.8" fill="#9a4008" opacity="0.45"/>
<circle cx="436.4" cy="111.3" r="2.3" fill="#9a4008" opacity="0.30"/>
<circle cx="90.8" cy="182.0" r="1.9" fill="#9a4008" opacity="0.35"/>
<circle cx="394.7" cy="430.6" r="2.7" fill="#9a4008" opacity="0.49"/>
<circle cx="568.7" cy="407.6" r="1.9" fill="#9a4008" opacity="0.29"/>
<circle cx="383.1" cy="286.3" r="2.4" fill="#9a4008" opacity="0.27"/>
<circle cx="166.8" cy="472.7" r="2.3" fill="#9a4008" opacity="0.42"/>
<circle cx="118.0" cy="213.4" r="2.7" fill="#9a4008" opacity="0.41"/>
<circle cx="567.8" cy="112.9" r="2.1" fill="#9a4008" opacity="0.45"/>
<circle cx="293.2" cy="407.1" r="2.2" fill="#9a4008" opacity="0.28"/>
<circle cx="119.6" cy="503.5" r="1.7" fill="#9a4008" opacity="0.30"/>
<circle cx="238.3" cy="369.6" r="2.6" fill="#9a4008" opacity="0.37"/>
<circle cx="320.1" cy="406.9" r="1.9" fill="#9a4008" opacity="0.34"/>
<circle cx="377.6" cy="331.2" r="1.5" fill="#9a4008" opacity="0.28"/>
<circle cx="139.2" cy="375.4" r="2.4" fill="#9a4008" opacity="0.49"/>
<circle cx="455.3" cy="141.6" r="2.5" fill="#9a4008" opacity="0.50"/>
<circle cx="245.0" cy="20.6" r="2.0" fill="#9a4008" opacity="0.32"/>
<circle cx="158.4" cy="37.4" r="1.7" fill="#9a4008" opacity="0.47"/>
<circle cx="95.1" cy="320.1" r="1.8" fill="#9a4008" opacity="0.30"/>
<circle cx="482.0" cy="163.5" r="1.7" fill="#9a4008" opacity="0.36"/>
<circle cx="418.9" cy="275.6" r="2.6" fill="#9a4008" opacity="0.35"/>
<circle cx="333.1" cy="371.4" r="2.1" fill="#9a4008" opacity="0.43"/>
<circle cx="304.4" cy="81.4" r="1.7" fill="#9a4008" opacity="0.45"/>
<circle cx="443.9" cy="483.5" r="2.4" fill="#9a4008" opacity="0.39"/>
<circle cx="153.4" cy="439.0" r="1.7" fill="#9a4008" opacity="0.36"/>
<circle cx="140.6" cy="204.2" r="1.9" fill="#9a4008" opacity="0.36"/>
<circle cx="427.0" cy="284.2" r="1.8" fill="#9a4008" opacity="0.44"/>
<circle cx="439.0" cy="426.1" r="1.5" fill="#9a4008" opacity="0.40"/>
<circle cx="519.5" cy="143.6" r="1.8" fill="#9a4008" opacity="0.45"/>
<circle cx="252.7" cy="214.4" r="2.6" fill="#9a4008" opacity="0.35"/>
<circle cx="169.6" cy="121.5" r="1.9" fill="#9a4008" opacity="0.42"/>
<circle cx="254.9" cy="398.2" r="1.6" fill="#9a4008" opacity="0.31"/>
<circle cx="383.7" cy="253.3" r="2.1" fill="#9a4008" opacity="0.48"/>
<circle cx="209.2" cy="105.2" r="1.5" fill="#9a4008" opacity="0.37"/>
<circle cx="219.2" cy="250.5" r="1.5" fill="#9a4008" opacity="0.25"/>
<circle cx="260.6" cy="391.5" r="1.9" fill="#9a4008" opacity="0.48"/>
<circle cx="360.9" cy="215.5" r="2.5" fill="#9a4008" opacity="0.31"/>
<circle cx="373.8" cy="435.7" r="2.2" fill="#9a4008" opacity="0.33"/>
<circle cx="118.2" cy="300.3" r="1.7" fill="#9a4008" opacity="0.34"/>
<circle cx="342.3" cy="482.7" r="2.4" fill="#9a4008" opacity="0.38"/>
<circle cx="500.9" cy="168.4" r="2.0" fill="#9a4008" opacity="0.42"/>
<circle cx="348.2" cy="125.1" r="2.0" fill="#9a4008" opacity="0.46"/>
<circle cx="191.6" cy="365.8" r="1.6" fill="#9a4008" opacity="0.49"/>
<circle cx="413.4" cy="175.9" r="2.8" fill="#9a4008" opacity="0.45"/>
<circle cx="101.0" cy="138.4" r="2.1" fill="#9a4008" opacity="0.50"/>
<circle cx="140.6" cy="38.7" r="1.9" fill="#9a4008" opacity="0.26"/>
<circle cx="275.3" cy="282.6" r="2.1" fill="#9a4008" opacity="0.29"/>
<circle cx="81.6" cy="414.0" r="2.1" fill="#9a4008" opacity="0.37"/>
<circle cx="310.0" cy="355.8" r="2.7" fill="#9a4008" opacity="0.46"/>
<circle cx="435.0" cy="183.4" r="1.7" fill="#9a4008" opacity="0.27"/>
<circle cx="501.2" cy="43.3" r="2.2" fill="#9a4008" opacity="0.48"/>
<circle cx="231.8" cy="208.4" r="2.0" fill="#9a4008" opacity="0.49"/>
<circle cx="413.5" cy="431.9" r="1.6" fill="#9a4008" opacity="0.43"/>
<circle cx="296.4" cy="214.5" r="2.6" fill="#9a4008" opacity="0.43"/>
<circle cx="527.1" cy="382.0" r="2.7" fill="#9a4008" opacity="0.36"/>
<circle cx="349.2" cy="405.0" r="2.1" fill="#9a4008" opacity="0.28"/>
<circle cx="363.9" cy="448.0" r="2.6" fill="#9a4008" opacity="0.28"/>
<circle cx="261.3" cy="128.6" r="1.9" fill="#9a4008" opacity="0.49"/>
<circle cx="281.4" cy="170.7" r="1.9" fill="#9a4008" opacity="0.36"/>
<circle cx="406.2" cy="185.2" r="1.7" fill="#9a4008" opacity="0.31"/>
<circle cx="200.5" cy="465.4" r="1.7" fill="#9a4008" opacity="0.44"/>
</g>
<g filter="url(#blur2)">
<path d="M160,117 C165,119 170,120 175,119 C185,117 190,116 195,114 C205,111 212,108 220,106 C230,102 238,99 245,97 C252,94 257,92 262,90 C270,86 275,84 280,81 C288,76 294,73 300,69 C307,65 313,61 320,57 C321,58 322,58 321,59 C314,64 308,69 302,74 C295,79 289,82 283,86 C276,90 270,93 264,96 C258,100 252,103 247,105 C238,109 230,111 222,114 C213,117 205,120 197,122 C190,124 184,126 178,127 C173,128 169,127 166,126 C163,124 161,122 160,117Z" fill="#b07818"/>
<path d="M200,117 C215,112 230,106 245,100 C252,97 258,94 266,90" fill="none" stroke="#d8a832" stroke-width="4.5" stroke-linecap="round" opacity="0.9"/>
</g>
<path d="M150,140 C145,143 140,146 136,148" fill="none" stroke="#8a3a08" stroke-width="3" opacity="0.5" filter="url(#blur2)"/>
<path d="M153.6,278 C150,282 149,287 152,291 C156,296 170,300 193,307.2 C210,312 222,316 231,319 L233.9,336.4 C236,342 240,346 244.2,345.2 L266,342.2 C270,346 275,349 280.7,351 C293,355 300,357 309.9,356.9 L331.8,356.9 C338,355 342,351 343.5,345.2 L345,333.5 C344,329 341,326 336.2,324.7 L314.3,316 C310,313 307,310 304,308.7 L288,307.2 C280,303 274,300 266,298.4 L236.9,286.7 C226,283 216,281 207.6,279.4 L178.4,272.9 C170,272 163,272 160.9,272.9 C157,274 155,276 153.6,278Z" fill="#3a0000" stroke="#3a0000" stroke-width="5" filter="url(#blur2)"/>
<path d="M153.6,278 C150,282 149,287 152,291 C156,296 170,300 193,307.2 C210,312 222,316 231,319 L233.9,336.4 C236,342 240,346 244.2,345.2 L266,342.2 C270,346 275,349 280.7,351 C293,355 300,357 309.9,356.9 L331.8,356.9 C338,355 342,351 343.5,345.2 L345,333.5 C344,329 341,326 336.2,324.7 L314.3,316 C310,313 307,310 304,308.7 L288,307.2 C280,303 274,300 266,298.4 L236.9,286.7 C226,283 216,281 207.6,279.4 L178.4,272.9 C170,272 163,272 160.9,272.9 C157,274 155,276 153.6,278Z" fill="#cd9e34" filter="url(#blur1)"/>
<path d="M160,282 C185,290 215,300 250,312 C275,320 300,330 335,338" fill="none" stroke="#d8aa38" stroke-width="10" opacity="0.6" filter="url(#blur3)"/>
<g filter="url(#blur2)" opacity="0.8">
<path d="M244,317.5 C252,317 259,317 262,319.5 C265,323 263,333 261,339 C259,344 252,344.5 245,343 C238,341.5 233,339 233.5,334 C234,328 238,318 244,317.5Z" fill="#3a0800" stroke="#3a0800" stroke-width="5"/>
<path d="M295,308.5 C302,307.5 310,306.5 313,309 C316,312 314,325 311.5,332 C309,338 303,339 296,337 C289,335 284,333 284.5,327 C285,320 289,309 295,308.5Z" fill="#3a0800" stroke="#3a0800" stroke-width="5"/>
</g>
<g filter="url(#blur1)">
<path d="M244,317.5 C252,317 259,317 262,319.5 C265,323 263,333 261,339 C259,344 252,344.5 245,343 C238,341.5 233,339 233.5,334 C234,328 238,318 244,317.5Z" fill="#fffff4" stroke="#fffadc" stroke-width="1.5"/>
<path d="M295,308.5 C302,307.5 310,306.5 313,309 C316,312 314,325 311.5,332 C309,338 303,339 296,337 C289,335 284,333 284.5,327 C285,320 289,309 295,308.5Z" fill="#fffff4" stroke="#fffadc" stroke-width="1.5"/>
</g>
<line x1="141.20" y1="265.60" x2="359.60" y2="368.50" stroke="#ffe9a0" stroke-width="3.5" opacity="0.5" filter="url(#blur1)"/>
<line x1="141.20" y1="265.60" x2="359.60" y2="368.50" stroke="#fff2c0" stroke-width="1.8" />
<circle cx="141.2" cy="265.6" r="3.2" fill="none" stroke="#fff0d0" stroke-width="1.4"/>
<path d="M206,299 L212,295 M209,293 L209,301" stroke="#3a2060" stroke-width="1.8" opacity="0.8"/>
<path d="M274.8,329.6 L280.8,325.6 M277.8,323.6 L277.8,331.6" stroke="#3a2060" stroke-width="1.8" opacity="0.8"/>
<path d="M66.5,517.0 L66.5,10.3 L575.5,10.3" fill="none" stroke="#1e0000" stroke-width="3.2" opacity="0.9" filter="url(#blur1)"/>
<path d="M66.5,517.0 L575.5,517.0 L575.5,9.8" fill="none" stroke="#0e0000" stroke-width="3.8" filter="url(#blur1)"/>
<rect x="134.8" y="33.3" width="421.8" height="163.2" fill="none" stroke="#2a0000" stroke-width="6" opacity="0.8" filter="url(#blur1)"/>
<path d="M134.2,184.9 L167.0,184.9 L172.0,159.7 L177.0,138.4 L184.6,135.4 L197.2,136.4 L215.7,138.4 L240.9,138.4 L251.8,132.4 L282.9,130.9 L313.1,127.8 L328.2,124.3 L336.6,116.7 L341.7,94.0 L345.9,67.2 L348.4,65.7 L351.8,69.8 L354.3,67.2 L356.8,67.7 L361.8,92.0 L366.9,119.3 L379.5,121.8 L394.6,122.8 L399.6,114.7 L403.0,111.7 L405.5,114.2 L408.9,107.6 L412.2,113.2 L415.6,103.1 L418.1,114.2 L421.5,118.2 L424.8,116.2 L428.2,122.8 L446.7,125.8 L479.4,129.4 L484.5,134.4 L492.0,159.7 L499.6,184.9 L533.2,184.9" fill="none" stroke="#3a0010" stroke-width="4.5" stroke-linejoin="round" opacity="0.7" filter="url(#blur1)"/>
<path d="M134.2,184.9 L167.0,184.9 L172.0,159.7 L177.0,138.4 L184.6,135.4 L197.2,136.4 L215.7,138.4 L240.9,138.4 L251.8,132.4 L282.9,130.9 L313.1,127.8 L328.2,124.3 L336.6,116.7 L341.7,94.0 L345.9,67.2 L348.4,65.7 L351.8,69.8 L354.3,67.2 L356.8,67.7 L361.8,92.0 L366.9,119.3 L379.5,121.8 L394.6,122.8 L399.6,114.7 L403.0,111.7 L405.5,114.2 L408.9,107.6 L412.2,113.2 L415.6,103.1 L418.1,114.2 L421.5,118.2 L424.8,116.2 L428.2,122.8 L446.7,125.8 L479.4,129.4 L484.5,134.4 L492.0,159.7 L499.6,184.9 L533.2,184.9" fill="none" stroke="#ff86cc" stroke-width="2.4" stroke-linejoin="round"/>
<rect x="134.8" y="33.3" width="421.8" height="163.2" fill="none" stroke="#fff4d2" stroke-width="3"/>
<line x1="133.30" y1="184.90" x2="128.30" y2="184.90" stroke="#fff4d2" stroke-width="2.0" />
<line x1="133.30" y1="172.28" x2="130.30" y2="172.28" stroke="#fff4d2" stroke-width="2.0" />
<line x1="133.30" y1="159.65" x2="128.30" y2="159.65" stroke="#fff4d2" stroke-width="2.0" />
<line x1="133.30" y1="147.03" x2="130.30" y2="147.03" stroke="#fff4d2" stroke-width="2.0" />
<line x1="133.30" y1="134.40" x2="128.30" y2="134.40" stroke="#fff4d2" stroke-width="2.0" />
<line x1="133.30" y1="121.78" x2="130.30" y2="121.78" stroke="#fff4d2" stroke-width="2.0" />
<line x1="133.30" y1="109.15" x2="128.30" y2="109.15" stroke="#fff4d2" stroke-width="2.0" />
<line x1="133.30" y1="96.53" x2="130.30" y2="96.53" stroke="#fff4d2" stroke-width="2.0" />
<line x1="133.30" y1="83.90" x2="128.30" y2="83.90" stroke="#fff4d2" stroke-width="2.0" />
<line x1="133.30" y1="71.28" x2="130.30" y2="71.28" stroke="#fff4d2" stroke-width="2.0" />
<line x1="133.30" y1="58.65" x2="128.30" y2="58.65" stroke="#fff4d2" stroke-width="2.0" />
<line x1="133.30" y1="46.03" x2="130.30" y2="46.03" stroke="#fff4d2" stroke-width="2.0" />
<line x1="133.30" y1="33.40" x2="128.30" y2="33.40" stroke="#fff4d2" stroke-width="2.0" />
<line x1="176.20" y1="198.00" x2="176.20" y2="201.00" stroke="#fff4d2" stroke-width="2.0" />
<line x1="218.20" y1="198.00" x2="218.20" y2="203.00" stroke="#fff4d2" stroke-width="2.0" />
<line x1="260.20" y1="198.00" x2="260.20" y2="201.00" stroke="#fff4d2" stroke-width="2.0" />
<line x1="302.20" y1="198.00" x2="302.20" y2="203.00" stroke="#fff4d2" stroke-width="2.0" />
<line x1="344.20" y1="198.00" x2="344.20" y2="201.00" stroke="#fff4d2" stroke-width="2.0" />
<line x1="386.20" y1="198.00" x2="386.20" y2="203.00" stroke="#fff4d2" stroke-width="2.0" />
<line x1="428.20" y1="198.00" x2="428.20" y2="201.00" stroke="#fff4d2" stroke-width="2.0" />
<line x1="470.20" y1="198.00" x2="470.20" y2="203.00" stroke="#fff4d2" stroke-width="2.0" />
<line x1="512.20" y1="198.00" x2="512.20" y2="201.00" stroke="#fff4d2" stroke-width="2.0" />
<text x="125.5" y="190.7" font-size="17" fill="#fff8e6" font-family="'Liberation Serif', 'Times New Roman', serif" text-anchor="end" font-weight="bold" stroke="#2a0000" stroke-width="2.2" paint-order="stroke" stroke-linejoin="round" >0</text>
<text x="125.5" y="165.5" font-size="17" fill="#fff8e6" font-family="'Liberation Serif', 'Times New Roman', serif" text-anchor="end" font-weight="bold" stroke="#2a0000" stroke-width="2.2" paint-order="stroke" stroke-linejoin="round" >5</text>
<text x="125.5" y="140.2" font-size="17" fill="#fff8e6" font-family="'Liberation Serif', 'Times New Roman', serif" text-anchor="end" font-weight="bold" stroke="#2a0000" stroke-width="2.2" paint-order="stroke" stroke-linejoin="round" >10</text>
<text x="125.5" y="115.0" font-size="17" fill="#fff8e6" font-family="'Liberation Serif', 'Times New Roman', serif" text-anchor="end" font-weight="bold" stroke="#2a0000" stroke-width="2.2" paint-order="stroke" stroke-linejoin="round" >15</text>
<text x="125.5" y="89.7" font-size="17" fill="#fff8e6" font-family="'Liberation Serif', 'Times New Roman', serif" text-anchor="end" font-weight="bold" stroke="#2a0000" stroke-width="2.2" paint-order="stroke" stroke-linejoin="round" >20</text>
<text x="125.5" y="64.5" font-size="17" fill="#fff8e6" font-family="'Liberation Serif', 'Times New Roman', serif" text-anchor="end" font-weight="bold" stroke="#2a0000" stroke-width="2.2" paint-order="stroke" stroke-linejoin="round" >25</text>
<text x="125.5" y="39.2" font-size="17" fill="#fff8e6" font-family="'Liberation Serif', 'Times New Roman', serif" text-anchor="end" font-weight="bold" stroke="#2a0000" stroke-width="2.2" paint-order="stroke" stroke-linejoin="round" >30</text>
<text x="218.2" y="221.5" font-size="20" fill="#fff8e6" font-family="'Liberation Serif', 'Times New Roman', serif" text-anchor="middle" font-weight="bold" stroke="#2a0000" stroke-width="2.2" paint-order="stroke" stroke-linejoin="round" textLength="24.0" lengthAdjust="spacingAndGlyphs" >100</text>
<text x="302.2" y="221.5" font-size="20" fill="#fff8e6" font-family="'Liberation Serif', 'Times New Roman', serif" text-anchor="middle" font-weight="bold" stroke="#2a0000" stroke-width="2.2" paint-order="stroke" stroke-linejoin="round" textLength="24.0" lengthAdjust="spacingAndGlyphs" >200</text>
<text x="386.2" y="221.5" font-size="20" fill="#fff8e6" font-family="'Liberation Serif', 'Times New Roman', serif" text-anchor="middle" font-weight="bold" stroke="#2a0000" stroke-width="2.2" paint-order="stroke" stroke-linejoin="round" textLength="24.0" lengthAdjust="spacingAndGlyphs" >300</text>
<text x="470.2" y="221.5" font-size="20" fill="#fff8e6" font-family="'Liberation Serif', 'Times New Roman', serif" text-anchor="middle" font-weight="bold" stroke="#2a0000" stroke-width="2.2" paint-order="stroke" stroke-linejoin="round" textLength="24.0" lengthAdjust="spacingAndGlyphs" >400</text>
<text x="554.2" y="221.5" font-size="20" fill="#fff8e6" font-family="'Liberation Serif', 'Times New Roman', serif" text-anchor="middle" font-weight="bold" stroke="#2a0000" stroke-width="2.2" paint-order="stroke" stroke-linejoin="round" textLength="24.0" lengthAdjust="spacingAndGlyphs" >500</text>
<text x="289.0" y="246.6" font-size="21" fill="#fff8e6" font-family="'Liberation Serif', 'Times New Roman', serif" font-weight="bold" stroke="#2a0000" stroke-width="2.2" paint-order="stroke" stroke-linejoin="round" textLength="126.4" lengthAdjust="spacingAndGlyphs" >Length (nm)</text>
<text x="91.5" y="172.9" font-size="21" fill="#fff8e6" font-family="'Liberation Serif', 'Times New Roman', serif" font-weight="bold" stroke="#2a0000" stroke-width="2.2" paint-order="stroke" stroke-linejoin="round" textLength="121.3" lengthAdjust="spacingAndGlyphs" transform="rotate(-90 91.5 172.9)" >Height (nm)</text>
<text x="0.5" y="44.5" font-size="42.5" fill="#000" font-family="'Liberation Sans', Arial, sans-serif" font-weight="bold" >(A)</text>
<defs>
<filter id="temn" x="0" y="0" width="100%" height="100%" color-interpolation-filters="sRGB">
 <feTurbulence type="fractalNoise" baseFrequency="0.24 0.2" numOctaves="2" seed="4" result="t"/>
 <feColorMatrix in="t" type="matrix" values="1 0 0 0 0  1 0 0 0 0  1 0 0 0 0  0 0 0 0 1" result="g"/>
 <feComponentTransfer in="g" result="c">
  <feFuncR type="table" tableValues="0 0 0.1 0.35 0.48 0.52 0.65 0.9 1 1"/>
  <feFuncG type="table" tableValues="0 0 0.1 0.35 0.48 0.52 0.65 0.9 1 1"/>
  <feFuncB type="table" tableValues="0 0 0.1 0.35 0.48 0.52 0.65 0.9 1 1"/>
 </feComponentTransfer>
 <feGaussianBlur in="c" stdDeviation="0.8"/>
</filter>
<filter id="temn2" x="0" y="0" width="100%" height="100%" color-interpolation-filters="sRGB">
 <feTurbulence type="fractalNoise" baseFrequency="0.05" numOctaves="2" seed="9" result="t"/>
 <feColorMatrix in="t" type="matrix" values="1.5 0 0 0 -0.25  1.5 0 0 0 -0.25  1.5 0 0 0 -0.25  0 0 0 0 1"/>
</filter>
<linearGradient id="flakeg" x1="0" y1="0" x2="0" y2="1">
 <stop offset="0" stop-color="#7c7c7c"/>
 <stop offset="0.08" stop-color="#686868"/>
 <stop offset="0.2" stop-color="#4e4e4e"/>
 <stop offset="0.4" stop-color="#414141"/>
 <stop offset="0.7" stop-color="#3b3b3b"/>
 <stop offset="1" stop-color="#444444"/>
</linearGradient>
<radialGradient id="flaked" cx="0.5" cy="0.5" r="0.5">
 <stop offset="0" stop-color="#1a1a1a" stop-opacity="0.7"/>
 <stop offset="1" stop-color="#1a1a1a" stop-opacity="0"/>
</radialGradient>
<clipPath id="temclip"><rect x="582.5" y="8.5" width="692.5" height="506"/></clipPath>
</defs>
<g clip-path="url(#temclip)">
<rect x="582.5" y="8.5" width="692.5" height="506.0" fill="#7d7d7d"/>
<path d="M850.0,187.0 C841.3,198.9 837.0,207.8 830.7,217.5 C824.4,227.2 817.5,234.6 812.0,245.5 C806.5,256.4 802.3,269.0 798.0,283.0 C793.7,297.0 787.9,315.6 786.4,329.6 C784.9,343.6 786.0,356.1 788.7,367.0 C791.4,377.9 797.2,385.7 802.7,395.0 C808.2,404.3 813.6,414.4 821.4,423.0 C829.2,431.6 839.3,440.2 849.4,446.4 C859.5,452.6 872.0,456.5 882.1,460.4 C892.2,464.3 901.5,465.1 910.1,469.8 C918.7,474.5 924.1,483.1 933.5,488.5 C942.9,493.9 956.9,501.7 966.2,502.5 C975.6,503.3 983.4,498.6 989.6,493.1 C995.8,487.7 998.2,476.8 1003.6,469.8 C1009.0,462.8 1016.1,460.5 1022.3,451.1 C1028.5,441.8 1035.5,426.1 1041.0,413.7 C1046.5,401.2 1050.0,388.8 1055.0,376.4 C1060.0,363.9 1066.8,351.5 1071.0,339.0 C1075.2,326.5 1078.3,314.4 1080.0,301.6 C1081.7,288.8 1082.0,274.3 1081.0,262.0 C1080.0,249.7 1076.8,239.1 1074.0,228.0 C1071.2,216.9 1067.7,206.8 1064.0,195.5 C1060.3,184.2 1056.0,171.1 1052.0,160.0 C1048.0,148.9 1043.9,138.5 1040.0,129.0 C1036.1,119.5 1032.9,111.0 1028.8,102.8 C1024.7,94.6 1021.2,85.8 1015.6,79.7 C1010.0,73.6 1003.4,69.0 995.0,66.0 C986.6,63.0 974.0,60.8 965.0,62.0 C956.0,63.2 948.6,66.8 941.0,73.0 C933.4,79.2 926.3,91.3 919.5,99.5 C912.7,107.7 906.1,114.2 900.0,122.0 C893.9,129.8 891.3,135.2 883.0,146.0 C874.7,156.8 858.7,175.1 850.0,187.0Z" fill="url(#flakeg)"/>
<ellipse cx="910" cy="196" rx="38" ry="32" fill="url(#flaked)"/>
<ellipse cx="900" cy="365" rx="105" ry="95" fill="url(#flaked)"/>
<ellipse cx="960" cy="300" rx="60" ry="70" fill="url(#flaked)" opacity="0.5"/>
<rect x="582.5" y="8.5" width="692.5" height="506.0" filter="url(#temn)" opacity="0.75" style="mix-blend-mode:overlay"/>
<path d="M850.0,187.0 C846.8,192.1 837.0,207.8 830.7,217.5 C824.4,227.2 817.5,234.6 812.0,245.5 C806.5,256.4 802.3,269.0 798.0,283.0 C793.7,297.0 787.9,315.6 786.4,329.6 C784.9,343.6 786.0,356.1 788.7,367.0 C791.4,377.9 797.2,385.7 802.7,395.0 C808.2,404.3 813.6,414.4 821.4,423.0 C829.2,431.6 839.3,440.2 849.4,446.4 C859.5,452.6 872.0,456.5 882.1,460.4 C892.2,464.3 901.5,465.1 910.1,469.8 C918.7,474.5 924.1,483.1 933.5,488.5 C942.9,493.9 956.9,501.7 966.2,502.5 C975.6,503.3 983.4,498.6 989.6,493.1 C995.8,487.7 998.2,476.8 1003.6,469.8 C1009.0,462.8 1016.1,460.5 1022.3,451.1 C1028.5,441.8 1035.5,426.1 1041.0,413.7 C1046.5,401.2 1050.0,388.8 1055.0,376.4 C1060.0,363.9 1066.8,351.5 1071.0,339.0 C1075.2,326.5 1078.3,314.4 1080.0,301.6 C1081.7,288.8 1082.0,274.3 1081.0,262.0 C1080.0,249.7 1076.8,239.1 1074.0,228.0 C1071.2,216.9 1067.7,206.8 1064.0,195.5 C1060.3,184.2 1056.0,171.1 1052.0,160.0 C1048.0,148.9 1043.9,138.5 1040.0,129.0 C1036.1,119.5 1030.7,107.2 1028.8,102.8" fill="none" stroke="#e0e0e0" stroke-width="3.2" opacity="0.5" filter="url(#blur2)"/>
<path d="M1022.3,451.1 C1025.4,444.9 1035.5,426.1 1041.0,413.7 C1046.5,401.2 1050.0,388.8 1055.0,376.4 C1060.0,363.9 1066.8,351.5 1071.0,339.0 C1075.2,326.5 1078.3,314.4 1080.0,301.6 C1081.7,288.8 1082.0,274.3 1081.0,262.0 C1080.0,249.7 1076.8,239.1 1074.0,228.0 C1071.2,216.9 1067.7,206.8 1064.0,195.5 C1060.3,184.2 1056.0,171.1 1052.0,160.0 C1048.0,148.9 1043.9,138.5 1040.0,129.0 C1036.1,119.5 1030.7,107.2 1028.8,102.8" fill="none" stroke="#1a1a1a" stroke-width="2" opacity="0.5" transform="translate(-3,0)" filter="url(#blur1)"/>
<defs><linearGradient id="smoothg" x1="0" y1="0" x2="0" y2="1"><stop offset="0" stop-color="#7e7e7e"/><stop offset="1" stop-color="#6e6e6e"/></linearGradient></defs>
<path d="M1114.0,0.0 L1112.0,20.0 L1108.0,40.0 L1104.0,70.0 L1101.0,100.0 L1099.0,125.0 L1097.0,150.0 L1094.0,200.0 L1091.0,250.0 L1092.0,300.0 L1093.7,350.0 L1097.0,400.0 L1101.0,450.0 L1104.0,470.0 L1106.0,490.0 L1109.0,520.0 L1280.0,520.0 L1280.0,0.0Z" fill="url(#smoothg)"/>
<path d="M1114.0,0.0 L1112.0,20.0 L1108.0,40.0 L1104.0,70.0 L1101.0,100.0 L1099.0,125.0 L1097.0,150.0 L1094.0,200.0 L1091.0,250.0 L1092.0,300.0 L1093.7,350.0 L1097.0,400.0 L1101.0,450.0 L1104.0,470.0 L1106.0,490.0 L1109.0,520.0 L1280.0,520.0 L1280.0,0.0Z" fill="#767676" filter="url(#temn2)" opacity="0.04" clip-path="url(#temclip)"/>
</g>
<path d="M582.5,9.5 L1273.8,9.5 L1273.8,513.3 L582.5,513.3" fill="none" stroke="#2a2a2a" stroke-width="2.4"/>
<rect x="1209.1" y="491.2" width="58.9" height="15.7" fill="#ffffff"/>
<line x1="1213.80" y1="493.60" x2="1264.90" y2="493.60" stroke="#222" stroke-width="2.0" />
<text x="1238.5" y="503.0" font-size="6" fill="#444" font-family="'Liberation Sans', Arial, sans-serif" text-anchor="middle" >10 nm</text>
<text x="587.5" y="490.0" font-size="7" fill="#111" font-family="'Liberation Sans', Arial, sans-serif" font-weight="bold" >JEM 2100</text>
<text x="587.5" y="499.5" font-size="7" fill="#111" font-family="'Liberation Sans', Arial, sans-serif" font-weight="bold" >200 kV</text>
<text x="587.5" y="509.0" font-size="7" fill="#111" font-family="'Liberation Sans', Arial, sans-serif" font-weight="bold" >X80000 I</text>
<text x="589.5" y="44.5" font-size="42.5" fill="#ffffff" font-family="'Liberation Sans', Arial, sans-serif" font-weight="bold" >(B)</text>
<path d="M1067.5,3 L1070.5,3 L1069,5Z" fill="#555"/><path d="M1168.5,3 L1171.5,3 L1170,5Z" fill="#555"/>
<defs><clipPath id="remclip"><rect x="1600" y="542.5" width="150" height="16"/></clipPath></defs>
<g clip-path="url(#remclip)">
<text x="1618.0" y="551.5" font-size="26" fill="#000" font-family="'Liberation Sans', Arial, sans-serif" stroke="#000" stroke-width="0.85" textLength="109.5" lengthAdjust="spacingAndGlyphs" >Time (&#956;s)</text>
</g>
<line x1="728.00" y1="1021.70" x2="1273.00" y2="1021.70" stroke="#e6e6e6" stroke-width="1.2" />

</svg>
</body></html>
